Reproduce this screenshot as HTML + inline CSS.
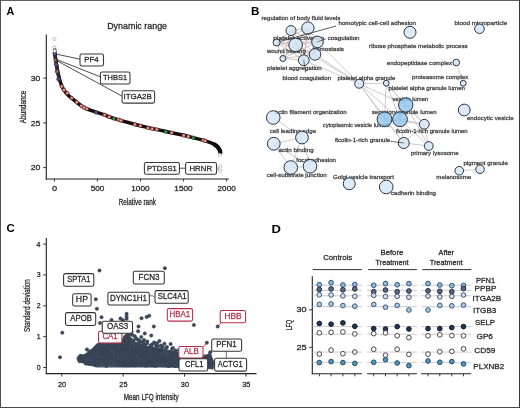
<!DOCTYPE html>
<html><head><meta charset="utf-8"><style>
html,body{margin:0;padding:0;background:#fff;width:520px;height:408px;overflow:hidden;}
svg{display:block;font-family:"Liberation Sans", sans-serif;}
</style></head><body>
<svg width="520" height="408" viewBox="0 0 520 408">
<defs><filter id="soft" x="0" y="0" width="520" height="408" filterUnits="userSpaceOnUse"><feGaussianBlur stdDeviation="0.3"/></filter></defs>
<g filter="url(#soft)">
<rect x="0" y="0" width="520" height="408" fill="#fff"/>
<text x="6.53" y="14.8" font-size="11" textLength="7.76" lengthAdjust="spacingAndGlyphs" font-weight="bold" fill="#000" text-anchor="start">A</text>
<text x="251.01" y="14.8" font-size="11" textLength="8.41" lengthAdjust="spacingAndGlyphs" font-weight="bold" fill="#000" text-anchor="start">B</text>
<text x="6.44" y="232.2" font-size="11" textLength="8.27" lengthAdjust="spacingAndGlyphs" font-weight="bold" fill="#000" text-anchor="start">C</text>
<text x="271.42" y="232.5" font-size="11" textLength="9.43" lengthAdjust="spacingAndGlyphs" font-weight="bold" fill="#000" text-anchor="start">D</text>
<text x="107.16" y="28.8" font-size="9.8" textLength="59.92" lengthAdjust="spacingAndGlyphs" fill="#1a1a1a" stroke="#1a1a1a" stroke-width="0.32" stroke-opacity="0.75" text-anchor="start">Dynamic range</text>
<line x1="46.3" y1="34.4" x2="46.3" y2="179.5" stroke="#222" stroke-width="1.1"/>
<line x1="45.75" y1="179" x2="228.8" y2="179" stroke="#222" stroke-width="1.1"/>
<line x1="43.2" y1="167.6" x2="46.3" y2="167.6" stroke="#222" stroke-width="0.9"/>
<text x="30.66" y="170.2" font-size="8.0" textLength="9.68" lengthAdjust="spacingAndGlyphs" fill="#222" stroke="#222" stroke-width="0.32" stroke-opacity="0.75" text-anchor="start">20</text>
<line x1="43.2" y1="122.9" x2="46.3" y2="122.9" stroke="#222" stroke-width="0.9"/>
<text x="30.66" y="125.5" font-size="8.0" textLength="9.71" lengthAdjust="spacingAndGlyphs" fill="#222" stroke="#222" stroke-width="0.32" stroke-opacity="0.75" text-anchor="start">25</text>
<line x1="43.2" y1="78.1" x2="46.3" y2="78.1" stroke="#222" stroke-width="0.9"/>
<text x="30.78" y="80.69999999999999" font-size="8.0" textLength="9.57" lengthAdjust="spacingAndGlyphs" fill="#222" stroke="#222" stroke-width="0.32" stroke-opacity="0.75" text-anchor="start">30</text>
<line x1="54.4" y1="179" x2="54.4" y2="181.5" stroke="#222" stroke-width="0.9"/>
<text x="51.93" y="191.4" font-size="7.6" textLength="5.12" lengthAdjust="spacingAndGlyphs" fill="#222" stroke="#222" stroke-width="0.32" stroke-opacity="0.75" text-anchor="start">0</text>
<line x1="97.44999999999999" y1="179" x2="97.44999999999999" y2="181.5" stroke="#222" stroke-width="0.9"/>
<text x="90.72" y="191.4" font-size="7.6" textLength="13.64" lengthAdjust="spacingAndGlyphs" fill="#222" stroke="#222" stroke-width="0.32" stroke-opacity="0.75" text-anchor="start">500</text>
<line x1="140.5" y1="179" x2="140.5" y2="181.5" stroke="#222" stroke-width="0.9"/>
<text x="131.28" y="191.4" font-size="7.6" textLength="18.35" lengthAdjust="spacingAndGlyphs" fill="#222" stroke="#222" stroke-width="0.32" stroke-opacity="0.75" text-anchor="start">1000</text>
<line x1="183.55" y1="179" x2="183.55" y2="181.5" stroke="#222" stroke-width="0.9"/>
<text x="174.33" y="191.4" font-size="7.6" textLength="18.35" lengthAdjust="spacingAndGlyphs" fill="#222" stroke="#222" stroke-width="0.32" stroke-opacity="0.75" text-anchor="start">1500</text>
<line x1="226.6" y1="179" x2="226.6" y2="181.5" stroke="#222" stroke-width="0.9"/>
<text x="217.59" y="191.4" font-size="7.6" textLength="18.13" lengthAdjust="spacingAndGlyphs" fill="#222" stroke="#222" stroke-width="0.32" stroke-opacity="0.75" text-anchor="start">2000</text>
<text x="118.67" y="204.7" font-size="8.4" textLength="37.23" lengthAdjust="spacingAndGlyphs" fill="#1a1a1a" stroke="#1a1a1a" stroke-width="0.32" stroke-opacity="0.75" text-anchor="start">Relative rank</text>
<text x="25.9" y="123.32" font-size="8.9" textLength="32.79" lengthAdjust="spacingAndGlyphs" fill="#1a1a1a" stroke="#1a1a1a" stroke-width="0.32" stroke-opacity="0.75" text-anchor="start" transform="rotate(-90 25.9 123.32)">Abundance</text>
<path d="M54.6,49.5 L55.0,54 L55.5,58 L56.4,64 L57.4,70 L58.4,75 L59.4,78.8 L60.5,82.5 L61.9,86.3 L63.8,89.8 L66.2,93.1 L69.0,96 L71.9,98.3 L76.2,101.9 L81.5,106.0 L86.9,109.0 L95.4,111.8 L104.6,114.8 L109.2,116.8 L113.8,118.4 L121.2,120.6 L134.6,124.3 L140.5,125.8 L148.2,127.6 L157.4,129.6 L166.2,131.5 L171.5,132.7 L183.8,135.3 L193,137.6 L203.8,140.4 L210.5,142.6 L214.5,144.5 L217.5,146.8 L219.5,149.6 L220.4,152.4" fill="none" stroke="#160a0a" stroke-width="3.5" stroke-linecap="round" stroke-linejoin="round"/>
<path d="M214.5,144.5 L217.5,146.8 L219.5,149.6 L220.4,152.4" fill="none" stroke="#0a0a0a" stroke-width="4.2" stroke-linecap="round"/>
<path d="M54.8,53.6 L55.5,58 L56.4,64 L57.4,70 L58.4,75 L59.6,80" fill="none" stroke="#2e2238" stroke-width="3.4" stroke-linecap="round"/>
<circle cx="61.80" cy="86.40" r="1.75" fill="#ec9a8e" stroke="#5e1d20" stroke-width="0.7"/>
<circle cx="64.00" cy="90.00" r="1.75" fill="#ec9a8e" stroke="#5e1d20" stroke-width="0.7"/>
<circle cx="67.30" cy="93.10" r="1.75" fill="#ec9a8e" stroke="#5e1d20" stroke-width="0.7"/>
<circle cx="71.75" cy="98.00" r="1.75" fill="#ec9a8e" stroke="#5e1d20" stroke-width="0.7"/>
<circle cx="76.75" cy="102.30" r="1.75" fill="#ec9a8e" stroke="#5e1d20" stroke-width="0.7"/>
<circle cx="81.40" cy="105.90" r="1.75" fill="#ec9a8e" stroke="#5e1d20" stroke-width="0.7"/>
<circle cx="84.00" cy="107.60" r="1.75" fill="#ec9a8e" stroke="#5e1d20" stroke-width="0.7"/>
<circle cx="86.80" cy="108.80" r="1.75" fill="#ec9a8e" stroke="#5e1d20" stroke-width="0.7"/>
<circle cx="104.60" cy="114.90" r="1.75" fill="#ec9a8e" stroke="#5e1d20" stroke-width="0.7"/>
<circle cx="109.20" cy="116.90" r="1.75" fill="#ec9a8e" stroke="#5e1d20" stroke-width="0.7"/>
<circle cx="118.50" cy="119.70" r="1.75" fill="#ec9a8e" stroke="#5e1d20" stroke-width="0.7"/>
<circle cx="121.10" cy="120.60" r="1.75" fill="#ec9a8e" stroke="#5e1d20" stroke-width="0.7"/>
<circle cx="134.80" cy="124.50" r="1.75" fill="#ec9a8e" stroke="#5e1d20" stroke-width="0.7"/>
<circle cx="140.30" cy="125.80" r="1.75" fill="#ec9a8e" stroke="#5e1d20" stroke-width="0.7"/>
<circle cx="148.00" cy="127.90" r="1.75" fill="#ec9a8e" stroke="#5e1d20" stroke-width="0.7"/>
<circle cx="152.10" cy="128.80" r="1.75" fill="#ec9a8e" stroke="#5e1d20" stroke-width="0.7"/>
<circle cx="156.75" cy="129.50" r="1.75" fill="#ec9a8e" stroke="#5e1d20" stroke-width="0.7"/>
<circle cx="171.65" cy="132.70" r="1.75" fill="#ec9a8e" stroke="#5e1d20" stroke-width="0.7"/>
<circle cx="183.70" cy="135.40" r="1.75" fill="#ec9a8e" stroke="#5e1d20" stroke-width="0.7"/>
<circle cx="188.20" cy="136.50" r="1.75" fill="#ec9a8e" stroke="#5e1d20" stroke-width="0.7"/>
<circle cx="203.20" cy="140.20" r="1.75" fill="#ec9a8e" stroke="#5e1d20" stroke-width="0.7"/>
<circle cx="205.30" cy="140.90" r="1.75" fill="#ec9a8e" stroke="#5e1d20" stroke-width="0.7"/>
<circle cx="55.50" cy="60.00" r="1.8" fill="#9a6a6a" stroke="#3a1e1e" stroke-width="0.6"/>
<circle cx="57.00" cy="71.60" r="1.8" fill="#9a6a6a" stroke="#3a1e1e" stroke-width="0.6"/>
<circle cx="54.70" cy="53.70" r="1.8" fill="#5f5088" stroke="#2a2040" stroke-width="0.6"/>
<circle cx="56.10" cy="64.60" r="1.8" fill="#5f5088" stroke="#2a2040" stroke-width="0.6"/>
<circle cx="58.50" cy="79.30" r="1.8" fill="#5f5088" stroke="#2a2040" stroke-width="0.6"/>
<circle cx="96.00" cy="112.40" r="1.8" fill="#5f5088" stroke="#2a2040" stroke-width="0.6"/>
<circle cx="113.90" cy="118.60" r="1.7" fill="#3a9a58" stroke="#10301a" stroke-width="0.5"/>
<circle cx="165.80" cy="131.70" r="1.7" fill="#3a9a58" stroke="#10301a" stroke-width="0.5"/>
<circle cx="193.30" cy="137.70" r="1.7" fill="#3a9a58" stroke="#10301a" stroke-width="0.5"/>
<circle cx="54.30" cy="39.20" r="1.6" fill="#fff" stroke="#9a9a9a" stroke-width="0.6"/>
<circle cx="54.30" cy="47.20" r="1.6" fill="#fff" stroke="#9a9a9a" stroke-width="0.6"/>
<circle cx="54.60" cy="50.80" r="1.6" fill="#fff" stroke="#9a9a9a" stroke-width="0.6"/>
<circle cx="219.80" cy="154.80" r="1.6" fill="#fff" stroke="#9a9a9a" stroke-width="0.6"/>
<circle cx="220.40" cy="166.40" r="1.6" fill="#fff" stroke="#9a9a9a" stroke-width="0.6"/>
<circle cx="220.40" cy="170.80" r="1.6" fill="#fff" stroke="#9a9a9a" stroke-width="0.6"/>
<line x1="56.5" y1="54.2" x2="80" y2="59.2" stroke="#222" stroke-width="0.8"/>
<line x1="56.5" y1="59.5" x2="100.4" y2="76.8" stroke="#222" stroke-width="0.8"/>
<line x1="56.5" y1="60.5" x2="122.1" y2="96.2" stroke="#222" stroke-width="0.8"/>
<rect x="80" y="54" width="23.50" height="12.00" rx="1.8" fill="#fff" fill-opacity="1" stroke="#383838" stroke-width="1.05"/>
<text x="84.26" y="62.3" font-size="8.0" textLength="14.27" lengthAdjust="spacingAndGlyphs" fill="#222" stroke="#222" stroke-width="0.32" stroke-opacity="0.75" text-anchor="start">PF4</text>
<rect x="100.4" y="72" width="29.60" height="12.00" rx="1.8" fill="#fff" fill-opacity="1" stroke="#383838" stroke-width="1.05"/>
<text x="103.03" y="80.4" font-size="8.0" textLength="24.13" lengthAdjust="spacingAndGlyphs" fill="#222" stroke="#222" stroke-width="0.32" stroke-opacity="0.75" text-anchor="start">THBS1</text>
<rect x="122.1" y="90.7" width="32.50" height="12.40" rx="1.8" fill="#fff" fill-opacity="1" stroke="#383838" stroke-width="1.05"/>
<text x="123.46" y="99.3" font-size="8.0" textLength="28.45" lengthAdjust="spacingAndGlyphs" fill="#222" stroke="#222" stroke-width="0.32" stroke-opacity="0.75" text-anchor="start">ITGA2B</text>
<rect x="144.4" y="162.5" width="35.00" height="11.80" rx="1.8" fill="#fff" fill-opacity="1" stroke="#383838" stroke-width="1.05"/>
<text x="146.97" y="170.7" font-size="8.0" textLength="29.8" lengthAdjust="spacingAndGlyphs" fill="#222" stroke="#222" stroke-width="0.32" stroke-opacity="0.75" text-anchor="start">PTDSS1</text>
<line x1="179.4" y1="168.2" x2="185.6" y2="168.2" stroke="#222" stroke-width="0.8"/>
<rect x="185.6" y="162.5" width="30.90" height="11.80" rx="1.8" fill="#fff" fill-opacity="1" stroke="#383838" stroke-width="1.05"/>
<text x="189.45" y="170.7" font-size="8.0" textLength="22.71" lengthAdjust="spacingAndGlyphs" fill="#222" stroke="#222" stroke-width="0.32" stroke-opacity="0.75" text-anchor="start">HRNR</text>
<path d="M216.5,168.4 L218.2,168.4 M218.2,166.4 L218.2,170.8" fill="none" stroke="#777" stroke-width="0.6"/>
<line x1="291" y1="30.6" x2="307.9" y2="28.1" stroke="#c7b3b3" stroke-width="1.0" stroke-opacity="0.8"/>
<line x1="291" y1="30.6" x2="276.6" y2="42.5" stroke="#c7b3b3" stroke-width="1.0" stroke-opacity="0.8"/>
<line x1="291" y1="30.6" x2="295.6" y2="45" stroke="#c7b3b3" stroke-width="1.0" stroke-opacity="0.8"/>
<line x1="291" y1="30.6" x2="317.5" y2="41.9" stroke="#c7b3b3" stroke-width="1.0" stroke-opacity="0.8"/>
<line x1="291" y1="30.6" x2="315" y2="54.4" stroke="#c7b3b3" stroke-width="1.0" stroke-opacity="0.8"/>
<line x1="291" y1="30.6" x2="282.9" y2="58.5" stroke="#c7b3b3" stroke-width="1.0" stroke-opacity="0.8"/>
<line x1="291" y1="30.6" x2="303.75" y2="60.25" stroke="#c7b3b3" stroke-width="1.0" stroke-opacity="0.8"/>
<line x1="307.9" y1="28.1" x2="276.6" y2="42.5" stroke="#c7b3b3" stroke-width="1.0" stroke-opacity="0.8"/>
<line x1="307.9" y1="28.1" x2="295.6" y2="45" stroke="#c7b3b3" stroke-width="1.0" stroke-opacity="0.8"/>
<line x1="307.9" y1="28.1" x2="317.5" y2="41.9" stroke="#c7b3b3" stroke-width="1.0" stroke-opacity="0.8"/>
<line x1="307.9" y1="28.1" x2="315" y2="54.4" stroke="#c7b3b3" stroke-width="1.0" stroke-opacity="0.8"/>
<line x1="307.9" y1="28.1" x2="282.9" y2="58.5" stroke="#c7b3b3" stroke-width="1.0" stroke-opacity="0.8"/>
<line x1="307.9" y1="28.1" x2="303.75" y2="60.25" stroke="#c7b3b3" stroke-width="1.0" stroke-opacity="0.8"/>
<line x1="276.6" y1="42.5" x2="295.6" y2="45" stroke="#c7b3b3" stroke-width="1.0" stroke-opacity="0.8"/>
<line x1="276.6" y1="42.5" x2="317.5" y2="41.9" stroke="#c7b3b3" stroke-width="1.0" stroke-opacity="0.8"/>
<line x1="276.6" y1="42.5" x2="315" y2="54.4" stroke="#c7b3b3" stroke-width="1.0" stroke-opacity="0.8"/>
<line x1="276.6" y1="42.5" x2="282.9" y2="58.5" stroke="#c7b3b3" stroke-width="1.0" stroke-opacity="0.8"/>
<line x1="276.6" y1="42.5" x2="303.75" y2="60.25" stroke="#c7b3b3" stroke-width="1.0" stroke-opacity="0.8"/>
<line x1="295.6" y1="45" x2="317.5" y2="41.9" stroke="#c7b3b3" stroke-width="1.0" stroke-opacity="0.8"/>
<line x1="295.6" y1="45" x2="315" y2="54.4" stroke="#c7b3b3" stroke-width="1.0" stroke-opacity="0.8"/>
<line x1="295.6" y1="45" x2="282.9" y2="58.5" stroke="#c7b3b3" stroke-width="1.0" stroke-opacity="0.8"/>
<line x1="295.6" y1="45" x2="303.75" y2="60.25" stroke="#c7b3b3" stroke-width="1.0" stroke-opacity="0.8"/>
<line x1="317.5" y1="41.9" x2="315" y2="54.4" stroke="#c7b3b3" stroke-width="1.0" stroke-opacity="0.8"/>
<line x1="317.5" y1="41.9" x2="282.9" y2="58.5" stroke="#c7b3b3" stroke-width="1.0" stroke-opacity="0.8"/>
<line x1="317.5" y1="41.9" x2="303.75" y2="60.25" stroke="#c7b3b3" stroke-width="1.0" stroke-opacity="0.8"/>
<line x1="315" y1="54.4" x2="282.9" y2="58.5" stroke="#c7b3b3" stroke-width="1.0" stroke-opacity="0.8"/>
<line x1="315" y1="54.4" x2="303.75" y2="60.25" stroke="#c7b3b3" stroke-width="1.0" stroke-opacity="0.8"/>
<line x1="282.9" y1="58.5" x2="303.75" y2="60.25" stroke="#c7b3b3" stroke-width="1.0" stroke-opacity="0.8"/>
<line x1="295.6" y1="45" x2="359.25" y2="83.75" stroke="#c6c6c6" stroke-width="0.9"/>
<line x1="317.5" y1="41.9" x2="359.25" y2="83.75" stroke="#c6c6c6" stroke-width="0.9"/>
<line x1="315" y1="54.4" x2="359.25" y2="83.75" stroke="#c6c6c6" stroke-width="0.9"/>
<line x1="303.75" y1="60.25" x2="359.25" y2="83.75" stroke="#c6c6c6" stroke-width="0.9"/>
<line x1="359.25" y1="83.75" x2="386.25" y2="83.25" stroke="#c6c6c6" stroke-width="0.9"/>
<line x1="359.25" y1="83.75" x2="405.75" y2="105.0" stroke="#c6c6c6" stroke-width="0.9"/>
<line x1="359.25" y1="83.75" x2="384.5" y2="119.25" stroke="#c6c6c6" stroke-width="0.9"/>
<line x1="359.25" y1="83.75" x2="400" y2="119.25" stroke="#c6c6c6" stroke-width="0.9"/>
<line x1="359.25" y1="83.75" x2="403.75" y2="143" stroke="#c6c6c6" stroke-width="0.9"/>
<line x1="386.25" y1="83.25" x2="405.75" y2="105.0" stroke="#c6c6c6" stroke-width="0.9"/>
<line x1="386.25" y1="83.25" x2="400" y2="119.25" stroke="#c6c6c6" stroke-width="0.9"/>
<line x1="386.25" y1="83.25" x2="384.5" y2="119.25" stroke="#c6c6c6" stroke-width="0.9"/>
<line x1="405.75" y1="105.0" x2="384.5" y2="119.25" stroke="#c6c6c6" stroke-width="0.9"/>
<line x1="405.75" y1="105.0" x2="400" y2="119.25" stroke="#c6c6c6" stroke-width="0.9"/>
<line x1="384.5" y1="119.25" x2="400" y2="119.25" stroke="#c6c6c6" stroke-width="0.9"/>
<line x1="405.75" y1="105.0" x2="424.25" y2="124.25" stroke="#c6c6c6" stroke-width="0.9"/>
<line x1="400" y1="119.25" x2="424.25" y2="124.25" stroke="#c6c6c6" stroke-width="0.9"/>
<line x1="384.5" y1="119.25" x2="424.25" y2="124.25" stroke="#c6c6c6" stroke-width="0.9"/>
<line x1="384.5" y1="119.25" x2="403.75" y2="143" stroke="#c6c6c6" stroke-width="0.9"/>
<line x1="400" y1="119.25" x2="403.75" y2="143" stroke="#c6c6c6" stroke-width="0.9"/>
<line x1="403.75" y1="143" x2="424.25" y2="124.25" stroke="#c6c6c6" stroke-width="0.9"/>
<line x1="403.75" y1="143" x2="428.75" y2="146" stroke="#c6c6c6" stroke-width="0.9"/>
<line x1="424.25" y1="124.25" x2="428.75" y2="146" stroke="#c6c6c6" stroke-width="0.9"/>
<line x1="400" y1="119.25" x2="428.75" y2="146" stroke="#c6c6c6" stroke-width="0.9"/>
<line x1="405.75" y1="105.0" x2="428.75" y2="146" stroke="#c6c6c6" stroke-width="0.9"/>
<line x1="386.25" y1="83.25" x2="424.25" y2="124.25" stroke="#c6c6c6" stroke-width="0.9"/>
<line x1="273.25" y1="117.5" x2="302" y2="137.5" stroke="#c6c6c6" stroke-width="0.9"/>
<line x1="302" y1="137.5" x2="273.75" y2="143.75" stroke="#c6c6c6" stroke-width="0.9"/>
<line x1="273.75" y1="143.75" x2="290.75" y2="167.5" stroke="#c6c6c6" stroke-width="0.9"/>
<line x1="273.75" y1="143.75" x2="310" y2="166.25" stroke="#c6c6c6" stroke-width="0.9"/>
<line x1="302" y1="137.5" x2="290.75" y2="167.5" stroke="#c6c6c6" stroke-width="0.9"/>
<line x1="302" y1="137.5" x2="310" y2="166.25" stroke="#c6c6c6" stroke-width="0.9"/>
<line x1="290.75" y1="167.5" x2="310" y2="166.25" stroke="#c6c6c6" stroke-width="0.9"/>
<line x1="456.25" y1="62.5" x2="463.25" y2="83.25" stroke="#c6c6c6" stroke-width="0.9"/>
<line x1="459.25" y1="170.75" x2="480" y2="169.25" stroke="#c6c6c6" stroke-width="0.9"/>
<text x="261.6" y="20.3" font-size="6.05" textLength="78.61" lengthAdjust="spacingAndGlyphs" fill="#333333" stroke="#333333" stroke-width="0.3" stroke-opacity="0.75" text-anchor="start">regulation of body fluid levels</text>
<text x="338.47" y="24.6" font-size="6.05" textLength="77.43" lengthAdjust="spacingAndGlyphs" fill="#333333" stroke="#333333" stroke-width="0.3" stroke-opacity="0.75" text-anchor="start">homotypic cell-cell adhesion</text>
<text x="454.59" y="24.6" font-size="6.05" textLength="52.68" lengthAdjust="spacingAndGlyphs" fill="#333333" stroke="#333333" stroke-width="0.3" stroke-opacity="0.75" text-anchor="start">blood microparticle</text>
<text x="273.37" y="39.599999999999994" font-size="6.05" textLength="50.85" lengthAdjust="spacingAndGlyphs" fill="#333333" stroke="#333333" stroke-width="0.3" stroke-opacity="0.75" text-anchor="start">platelet activation</text>
<text x="327.74" y="40.4" font-size="6.05" textLength="31.86" lengthAdjust="spacingAndGlyphs" fill="#333333" stroke="#333333" stroke-width="0.3" stroke-opacity="0.75" text-anchor="start">coagulation</text>
<text x="369.1" y="48.4" font-size="6.05" textLength="98.61" lengthAdjust="spacingAndGlyphs" fill="#333333" stroke="#333333" stroke-width="0.3" stroke-opacity="0.75" text-anchor="start">ribose phosphate metabolic process</text>
<text x="312.77" y="50.8" font-size="6.05" textLength="31.15" lengthAdjust="spacingAndGlyphs" fill="#333333" stroke="#333333" stroke-width="0.3" stroke-opacity="0.75" text-anchor="start">hemostasis</text>
<text x="266.92" y="53.4" font-size="6.05" textLength="38.86" lengthAdjust="spacingAndGlyphs" fill="#333333" stroke="#333333" stroke-width="0.3" stroke-opacity="0.75" text-anchor="start">wound healing</text>
<text x="386.74" y="65.1" font-size="6.05" textLength="65.35" lengthAdjust="spacingAndGlyphs" fill="#333333" stroke="#333333" stroke-width="0.3" stroke-opacity="0.75" text-anchor="start">endopeptidase complex</text>
<text x="267.1" y="69.6" font-size="6.05" textLength="54.59" lengthAdjust="spacingAndGlyphs" fill="#333333" stroke="#333333" stroke-width="0.3" stroke-opacity="0.75" text-anchor="start">platelet aggregation</text>
<text x="412.11" y="79.1" font-size="6.05" textLength="56.27" lengthAdjust="spacingAndGlyphs" fill="#333333" stroke="#333333" stroke-width="0.3" stroke-opacity="0.75" text-anchor="start">proteasome complex</text>
<text x="337.61" y="79.6" font-size="6.05" textLength="57.65" lengthAdjust="spacingAndGlyphs" fill="#333333" stroke="#333333" stroke-width="0.3" stroke-opacity="0.75" text-anchor="start">platelet alpha granule</text>
<text x="282.6" y="80.1" font-size="6.05" textLength="48.59" lengthAdjust="spacingAndGlyphs" fill="#333333" stroke="#333333" stroke-width="0.3" stroke-opacity="0.75" text-anchor="start">blood coagulation</text>
<text x="388.4" y="90.3" font-size="6.05" textLength="76.58" lengthAdjust="spacingAndGlyphs" fill="#333333" stroke="#333333" stroke-width="0.3" stroke-opacity="0.75" text-anchor="start">platelet alpha granule lumen</text>
<text x="392.49" y="100.8" font-size="6.05" textLength="35.89" lengthAdjust="spacingAndGlyphs" fill="#333333" stroke="#333333" stroke-width="0.3" stroke-opacity="0.75" text-anchor="start">vesicle lumen</text>
<text x="371.83" y="114.0" font-size="6.05" textLength="64.75" lengthAdjust="spacingAndGlyphs" fill="#333333" stroke="#333333" stroke-width="0.3" stroke-opacity="0.75" text-anchor="start">secretory granule lumen</text>
<text x="274.74" y="114.3" font-size="6.05" textLength="71.85" lengthAdjust="spacingAndGlyphs" fill="#333333" stroke="#333333" stroke-width="0.3" stroke-opacity="0.75" text-anchor="start">actin filament organization</text>
<text x="466.94" y="120.39999999999999" font-size="6.05" textLength="46.64" lengthAdjust="spacingAndGlyphs" fill="#333333" stroke="#333333" stroke-width="0.3" stroke-opacity="0.75" text-anchor="start">endocytic vesicle</text>
<text x="322.76" y="127.2" font-size="6.05" textLength="66.62" lengthAdjust="spacingAndGlyphs" fill="#333333" stroke="#333333" stroke-width="0.3" stroke-opacity="0.75" text-anchor="start">cytoplasmic vesicle lumen</text>
<text x="395.91" y="133.3" font-size="6.05" textLength="71.77" lengthAdjust="spacingAndGlyphs" fill="#333333" stroke="#333333" stroke-width="0.3" stroke-opacity="0.75" text-anchor="start">ficolin-1-rich granule lumen</text>
<text x="269.74" y="132.6" font-size="6.05" textLength="46.33" lengthAdjust="spacingAndGlyphs" fill="#333333" stroke="#333333" stroke-width="0.3" stroke-opacity="0.75" text-anchor="start">cell leading edge</text>
<text x="334.91" y="142.0" font-size="6.05" textLength="55.36" lengthAdjust="spacingAndGlyphs" fill="#333333" stroke="#333333" stroke-width="0.3" stroke-opacity="0.75" text-anchor="start">ficolin-1-rich granule</text>
<text x="278.53" y="152.0" font-size="6.05" textLength="35.16" lengthAdjust="spacingAndGlyphs" fill="#333333" stroke="#333333" stroke-width="0.3" stroke-opacity="0.75" text-anchor="start">actin binding</text>
<text x="410.9" y="155.10000000000002" font-size="6.05" textLength="47.65" lengthAdjust="spacingAndGlyphs" fill="#333333" stroke="#333333" stroke-width="0.3" stroke-opacity="0.75" text-anchor="start">primary lysosome</text>
<text x="296.21" y="162.0" font-size="6.05" textLength="39.79" lengthAdjust="spacingAndGlyphs" fill="#333333" stroke="#333333" stroke-width="0.3" stroke-opacity="0.75" text-anchor="start">focal adhesion</text>
<text x="463.4" y="165.3" font-size="6.05" textLength="44.48" lengthAdjust="spacingAndGlyphs" fill="#333333" stroke="#333333" stroke-width="0.3" stroke-opacity="0.75" text-anchor="start">pigment granule</text>
<text x="266.74" y="176.8" font-size="6.05" textLength="59.96" lengthAdjust="spacingAndGlyphs" fill="#333333" stroke="#333333" stroke-width="0.3" stroke-opacity="0.75" text-anchor="start">cell-substrate junction</text>
<text x="436.39" y="178.8" font-size="6.05" textLength="34.67" lengthAdjust="spacingAndGlyphs" fill="#333333" stroke="#333333" stroke-width="0.3" stroke-opacity="0.75" text-anchor="start">melanosome</text>
<text x="332.99" y="179.3" font-size="6.05" textLength="60.86" lengthAdjust="spacingAndGlyphs" fill="#333333" stroke="#333333" stroke-width="0.3" stroke-opacity="0.75" text-anchor="start">Golgi vesicle transport</text>
<text x="391.04" y="195.10000000000002" font-size="6.05" textLength="44.95" lengthAdjust="spacingAndGlyphs" fill="#333333" stroke="#333333" stroke-width="0.3" stroke-opacity="0.75" text-anchor="start">cadherin binding</text>
<circle cx="291.00" cy="30.60" r="5" fill="#d5e7f7" stroke="#283646" stroke-width="1.0" fill-opacity="0.82"/>
<circle cx="307.90" cy="28.10" r="6.2" fill="#d5e7f7" stroke="#283646" stroke-width="1.0" fill-opacity="0.82"/>
<circle cx="276.60" cy="42.50" r="3.5" fill="#d5e7f7" stroke="#283646" stroke-width="1.0" fill-opacity="0.82"/>
<circle cx="295.60" cy="45.00" r="6.8" fill="#d5e7f7" stroke="#283646" stroke-width="1.0" fill-opacity="0.82"/>
<circle cx="317.50" cy="41.90" r="5.8" fill="#d5e7f7" stroke="#283646" stroke-width="1.0" fill-opacity="0.82"/>
<circle cx="315.00" cy="54.40" r="5.8" fill="#d5e7f7" stroke="#283646" stroke-width="1.0" fill-opacity="0.82"/>
<circle cx="282.90" cy="58.50" r="3" fill="#d5e7f7" stroke="#283646" stroke-width="1.0" fill-opacity="0.82"/>
<circle cx="303.75" cy="60.25" r="5.4" fill="#d5e7f7" stroke="#283646" stroke-width="1.0" fill-opacity="0.82"/>
<circle cx="410.00" cy="32.30" r="6" fill="#d5e7f7" stroke="#283646" stroke-width="1.0" fill-opacity="0.82"/>
<circle cx="479.50" cy="28.75" r="4.8" fill="#d5e7f7" stroke="#283646" stroke-width="1.0" fill-opacity="0.82"/>
<circle cx="456.25" cy="62.50" r="3.3" fill="#d5e7f7" stroke="#283646" stroke-width="1.0" fill-opacity="0.82"/>
<circle cx="463.25" cy="83.25" r="2.9" fill="#d5e7f7" stroke="#283646" stroke-width="1.0" fill-opacity="0.82"/>
<circle cx="359.25" cy="83.75" r="4.5" fill="#d5e7f7" stroke="#283646" stroke-width="1.0" fill-opacity="0.82"/>
<circle cx="386.25" cy="83.25" r="2.9" fill="#d5e7f7" stroke="#283646" stroke-width="1.0" fill-opacity="0.82"/>
<circle cx="405.75" cy="105.00" r="7.2" fill="#92c6ee" stroke="#283646" stroke-width="1.0" fill-opacity="0.82"/>
<circle cx="384.50" cy="119.25" r="7.4" fill="#92c6ee" stroke="#283646" stroke-width="1.0" fill-opacity="0.82"/>
<circle cx="400.00" cy="119.25" r="7.4" fill="#92c6ee" stroke="#283646" stroke-width="1.0" fill-opacity="0.82"/>
<circle cx="424.25" cy="124.25" r="4.9" fill="#d5e7f7" stroke="#283646" stroke-width="1.0" fill-opacity="0.82"/>
<circle cx="403.75" cy="143.00" r="5.5" fill="#d5e7f7" stroke="#283646" stroke-width="1.0" fill-opacity="0.82"/>
<circle cx="428.75" cy="146.00" r="4.4" fill="#d5e7f7" stroke="#283646" stroke-width="1.0" fill-opacity="0.82"/>
<circle cx="464.25" cy="110.00" r="5.9" fill="#d5e7f7" stroke="#283646" stroke-width="1.0" fill-opacity="0.82"/>
<circle cx="459.25" cy="170.75" r="4.3" fill="#d5e7f7" stroke="#283646" stroke-width="1.0" fill-opacity="0.82"/>
<circle cx="480.00" cy="169.25" r="4.3" fill="#d5e7f7" stroke="#283646" stroke-width="1.0" fill-opacity="0.82"/>
<circle cx="273.25" cy="117.50" r="6.8" fill="#d5e7f7" stroke="#283646" stroke-width="1.0" fill-opacity="0.82"/>
<circle cx="302.00" cy="137.50" r="6.4" fill="#d5e7f7" stroke="#283646" stroke-width="1.0" fill-opacity="0.82"/>
<circle cx="273.75" cy="143.75" r="6.4" fill="#d5e7f7" stroke="#283646" stroke-width="1.0" fill-opacity="0.82"/>
<circle cx="290.75" cy="167.50" r="6.8" fill="#d5e7f7" stroke="#283646" stroke-width="1.0" fill-opacity="0.82"/>
<circle cx="310.00" cy="166.25" r="6.8" fill="#d5e7f7" stroke="#283646" stroke-width="1.0" fill-opacity="0.82"/>
<circle cx="349.25" cy="183.75" r="6" fill="#d5e7f7" stroke="#283646" stroke-width="1.0" fill-opacity="0.82"/>
<circle cx="386.25" cy="187.00" r="6.8" fill="#d5e7f7" stroke="#283646" stroke-width="1.0" fill-opacity="0.82"/>
<line x1="336" y1="26" x2="280" y2="41.5" stroke="#333" stroke-width="0.8"/>
<line x1="317.5" y1="41.9" x2="326" y2="38.8" stroke="#333" stroke-width="0.7"/>
<line x1="303.75" y1="60.25" x2="305.5" y2="72.5" stroke="#333" stroke-width="0.7"/>
<line x1="390.5" y1="141.3" x2="403.75" y2="143" stroke="#333" stroke-width="0.7"/>
<line x1="46.3" y1="238" x2="46.3" y2="374" stroke="#222" stroke-width="1.1"/>
<line x1="45.75" y1="373.6" x2="256.5" y2="373.6" stroke="#222" stroke-width="1.1"/>
<line x1="43.2" y1="367.5" x2="46.3" y2="367.5" stroke="#222" stroke-width="0.9"/>
<text x="36.68" y="370.0" font-size="7.0" textLength="3.89" lengthAdjust="spacingAndGlyphs" fill="#222" stroke="#222" stroke-width="0.32" stroke-opacity="0.75" text-anchor="start">0</text>
<line x1="43.2" y1="336.65" x2="46.3" y2="336.65" stroke="#222" stroke-width="0.9"/>
<text x="36.75" y="339.15" font-size="7.0" textLength="3.89" lengthAdjust="spacingAndGlyphs" fill="#222" stroke="#222" stroke-width="0.32" stroke-opacity="0.75" text-anchor="start">1</text>
<line x1="43.2" y1="305.8" x2="46.3" y2="305.8" stroke="#222" stroke-width="0.9"/>
<text x="36.76" y="308.3" font-size="7.0" textLength="3.89" lengthAdjust="spacingAndGlyphs" fill="#222" stroke="#222" stroke-width="0.32" stroke-opacity="0.75" text-anchor="start">2</text>
<line x1="43.2" y1="274.95" x2="46.3" y2="274.95" stroke="#222" stroke-width="0.9"/>
<text x="36.71" y="277.45" font-size="7.0" textLength="3.89" lengthAdjust="spacingAndGlyphs" fill="#222" stroke="#222" stroke-width="0.32" stroke-opacity="0.75" text-anchor="start">3</text>
<line x1="43.2" y1="244.1" x2="46.3" y2="244.1" stroke="#222" stroke-width="0.9"/>
<text x="36.61" y="246.6" font-size="7.0" textLength="3.89" lengthAdjust="spacingAndGlyphs" fill="#222" stroke="#222" stroke-width="0.32" stroke-opacity="0.75" text-anchor="start">4</text>
<line x1="61.8" y1="373.6" x2="61.8" y2="376.6" stroke="#222" stroke-width="0.9"/>
<text x="57.97" y="386.5" font-size="7.0" textLength="8.18" lengthAdjust="spacingAndGlyphs" fill="#222" stroke="#222" stroke-width="0.32" stroke-opacity="0.75" text-anchor="start">20</text>
<line x1="123.19999999999999" y1="373.6" x2="123.19999999999999" y2="376.6" stroke="#222" stroke-width="0.9"/>
<text x="119.38" y="386.5" font-size="7.0" textLength="8.18" lengthAdjust="spacingAndGlyphs" fill="#222" stroke="#222" stroke-width="0.32" stroke-opacity="0.75" text-anchor="start">25</text>
<line x1="184.6" y1="373.6" x2="184.6" y2="376.6" stroke="#222" stroke-width="0.9"/>
<text x="180.82" y="386.5" font-size="7.0" textLength="8.18" lengthAdjust="spacingAndGlyphs" fill="#222" stroke="#222" stroke-width="0.32" stroke-opacity="0.75" text-anchor="start">30</text>
<line x1="246.0" y1="373.6" x2="246.0" y2="376.6" stroke="#222" stroke-width="0.9"/>
<text x="242.23" y="386.5" font-size="7.0" textLength="8.18" lengthAdjust="spacingAndGlyphs" fill="#222" stroke="#222" stroke-width="0.32" stroke-opacity="0.75" text-anchor="start">35</text>
<text x="123.78" y="399.6" font-size="8.6" textLength="54.94" lengthAdjust="spacingAndGlyphs" fill="#1a1a1a" stroke="#1a1a1a" stroke-width="0.32" stroke-opacity="0.75" text-anchor="start">Mean LFQ intensity</text>
<text x="30.5" y="331.99" font-size="8.8" textLength="52.9" lengthAdjust="spacingAndGlyphs" fill="#1a1a1a" stroke="#1a1a1a" stroke-width="0.32" stroke-opacity="0.75" text-anchor="start" transform="rotate(-90 30.5 331.99)">Standard deviation</text>
<path d="M77.5,360 L80,354.4 L83.75,355 L88.1,353.1 L91.25,350 L95,346.25 L97,344 L100,343 L122,342 L124,336 L127,334 L130,337 L133,341 L138,343.5 L145,345.5 L150,347 L160,348.5 L170,350.5 L180,353 L190,355.5 L200,357 L205,355 L210,355.5 L213,360 L213,369 L200,367.5 L160,367 L120,367 L100,366.8 L97.5,366.5 L87.5,364.8 L80,361.5Z" fill="#3d4a5b" stroke="#3d4a5b" stroke-width="1.2" stroke-linejoin="round"/>
<circle cx="133.43" cy="363.07" r="1.75" fill="#3d4a5b" stroke="#2c3745" stroke-width="0.35"/>
<circle cx="117.19" cy="362.65" r="1.75" fill="#3d4a5b" stroke="#2c3745" stroke-width="0.35"/>
<circle cx="99.30" cy="353.26" r="1.75" fill="#3d4a5b" stroke="#2c3745" stroke-width="0.35"/>
<circle cx="117.98" cy="353.42" r="1.75" fill="#3d4a5b" stroke="#2c3745" stroke-width="0.35"/>
<circle cx="185.21" cy="357.96" r="1.75" fill="#3d4a5b" stroke="#2c3745" stroke-width="0.35"/>
<circle cx="108.17" cy="352.98" r="1.75" fill="#3d4a5b" stroke="#2c3745" stroke-width="0.35"/>
<circle cx="147.53" cy="365.01" r="1.75" fill="#3d4a5b" stroke="#2c3745" stroke-width="0.35"/>
<circle cx="132.54" cy="360.29" r="1.75" fill="#3d4a5b" stroke="#2c3745" stroke-width="0.35"/>
<circle cx="95.28" cy="349.56" r="1.75" fill="#3d4a5b" stroke="#2c3745" stroke-width="0.35"/>
<circle cx="79.49" cy="356.73" r="1.75" fill="#3d4a5b" stroke="#2c3745" stroke-width="0.35"/>
<circle cx="171.34" cy="353.77" r="1.75" fill="#3d4a5b" stroke="#2c3745" stroke-width="0.35"/>
<circle cx="155.19" cy="348.25" r="1.75" fill="#3d4a5b" stroke="#2c3745" stroke-width="0.35"/>
<circle cx="140.37" cy="356.57" r="1.75" fill="#3d4a5b" stroke="#2c3745" stroke-width="0.35"/>
<circle cx="82.49" cy="358.06" r="1.75" fill="#3d4a5b" stroke="#2c3745" stroke-width="0.35"/>
<circle cx="128.01" cy="356.75" r="1.75" fill="#3d4a5b" stroke="#2c3745" stroke-width="0.35"/>
<circle cx="82.25" cy="360.73" r="1.75" fill="#3d4a5b" stroke="#2c3745" stroke-width="0.35"/>
<circle cx="128.73" cy="364.86" r="1.75" fill="#3d4a5b" stroke="#2c3745" stroke-width="0.35"/>
<circle cx="150.92" cy="365.34" r="1.75" fill="#3d4a5b" stroke="#2c3745" stroke-width="0.35"/>
<circle cx="188.70" cy="364.56" r="1.75" fill="#3d4a5b" stroke="#2c3745" stroke-width="0.35"/>
<circle cx="112.98" cy="346.61" r="1.75" fill="#3d4a5b" stroke="#2c3745" stroke-width="0.35"/>
<circle cx="124.23" cy="365.37" r="1.75" fill="#3d4a5b" stroke="#2c3745" stroke-width="0.35"/>
<circle cx="106.67" cy="349.40" r="1.75" fill="#3d4a5b" stroke="#2c3745" stroke-width="0.35"/>
<circle cx="125.70" cy="352.65" r="1.75" fill="#3d4a5b" stroke="#2c3745" stroke-width="0.35"/>
<circle cx="207.43" cy="357.62" r="1.75" fill="#3d4a5b" stroke="#2c3745" stroke-width="0.35"/>
<circle cx="146.17" cy="354.70" r="1.75" fill="#3d4a5b" stroke="#2c3745" stroke-width="0.35"/>
<circle cx="199.93" cy="361.20" r="1.75" fill="#3d4a5b" stroke="#2c3745" stroke-width="0.35"/>
<circle cx="196.43" cy="361.91" r="1.75" fill="#3d4a5b" stroke="#2c3745" stroke-width="0.35"/>
<circle cx="128.93" cy="345.96" r="1.75" fill="#3d4a5b" stroke="#2c3745" stroke-width="0.35"/>
<circle cx="88.50" cy="355.37" r="1.75" fill="#3d4a5b" stroke="#2c3745" stroke-width="0.35"/>
<circle cx="109.32" cy="343.90" r="1.75" fill="#3d4a5b" stroke="#2c3745" stroke-width="0.35"/>
<circle cx="139.24" cy="349.35" r="1.75" fill="#3d4a5b" stroke="#2c3745" stroke-width="0.35"/>
<circle cx="194.87" cy="357.85" r="1.75" fill="#3d4a5b" stroke="#2c3745" stroke-width="0.35"/>
<circle cx="110.56" cy="344.67" r="1.75" fill="#3d4a5b" stroke="#2c3745" stroke-width="0.35"/>
<circle cx="97.39" cy="360.88" r="1.75" fill="#3d4a5b" stroke="#2c3745" stroke-width="0.35"/>
<circle cx="148.56" cy="361.16" r="1.75" fill="#3d4a5b" stroke="#2c3745" stroke-width="0.35"/>
<circle cx="193.37" cy="362.24" r="1.75" fill="#3d4a5b" stroke="#2c3745" stroke-width="0.35"/>
<circle cx="188.57" cy="359.59" r="1.75" fill="#3d4a5b" stroke="#2c3745" stroke-width="0.35"/>
<circle cx="105.74" cy="350.71" r="1.75" fill="#3d4a5b" stroke="#2c3745" stroke-width="0.35"/>
<circle cx="110.28" cy="357.70" r="1.75" fill="#3d4a5b" stroke="#2c3745" stroke-width="0.35"/>
<circle cx="165.42" cy="361.99" r="1.75" fill="#3d4a5b" stroke="#2c3745" stroke-width="0.35"/>
<circle cx="85.87" cy="356.42" r="1.75" fill="#3d4a5b" stroke="#2c3745" stroke-width="0.35"/>
<circle cx="201.37" cy="361.29" r="1.75" fill="#3d4a5b" stroke="#2c3745" stroke-width="0.35"/>
<circle cx="98.99" cy="361.57" r="1.75" fill="#3d4a5b" stroke="#2c3745" stroke-width="0.35"/>
<circle cx="120.55" cy="362.03" r="1.75" fill="#3d4a5b" stroke="#2c3745" stroke-width="0.35"/>
<circle cx="200.68" cy="362.26" r="1.75" fill="#3d4a5b" stroke="#2c3745" stroke-width="0.35"/>
<circle cx="94.46" cy="363.06" r="1.75" fill="#3d4a5b" stroke="#2c3745" stroke-width="0.35"/>
<circle cx="123.06" cy="351.95" r="1.75" fill="#3d4a5b" stroke="#2c3745" stroke-width="0.35"/>
<circle cx="209.92" cy="355.99" r="1.75" fill="#3d4a5b" stroke="#2c3745" stroke-width="0.35"/>
<circle cx="134.73" cy="364.87" r="1.75" fill="#3d4a5b" stroke="#2c3745" stroke-width="0.35"/>
<circle cx="107.68" cy="353.46" r="1.75" fill="#3d4a5b" stroke="#2c3745" stroke-width="0.35"/>
<circle cx="110.31" cy="346.76" r="1.75" fill="#3d4a5b" stroke="#2c3745" stroke-width="0.35"/>
<circle cx="123.53" cy="348.33" r="1.75" fill="#3d4a5b" stroke="#2c3745" stroke-width="0.35"/>
<circle cx="144.23" cy="351.27" r="1.75" fill="#3d4a5b" stroke="#2c3745" stroke-width="0.35"/>
<circle cx="98.13" cy="348.94" r="1.75" fill="#3d4a5b" stroke="#2c3745" stroke-width="0.35"/>
<circle cx="175.53" cy="352.26" r="1.75" fill="#3d4a5b" stroke="#2c3745" stroke-width="0.35"/>
<circle cx="119.64" cy="350.73" r="1.75" fill="#3d4a5b" stroke="#2c3745" stroke-width="0.35"/>
<circle cx="151.76" cy="361.37" r="1.75" fill="#3d4a5b" stroke="#2c3745" stroke-width="0.35"/>
<circle cx="88.86" cy="352.41" r="1.75" fill="#3d4a5b" stroke="#2c3745" stroke-width="0.35"/>
<circle cx="152.64" cy="360.40" r="1.75" fill="#3d4a5b" stroke="#2c3745" stroke-width="0.35"/>
<circle cx="159.75" cy="350.22" r="1.75" fill="#3d4a5b" stroke="#2c3745" stroke-width="0.35"/>
<circle cx="145.70" cy="357.71" r="1.75" fill="#3d4a5b" stroke="#2c3745" stroke-width="0.35"/>
<circle cx="137.33" cy="351.33" r="1.75" fill="#3d4a5b" stroke="#2c3745" stroke-width="0.35"/>
<circle cx="171.89" cy="365.06" r="1.75" fill="#3d4a5b" stroke="#2c3745" stroke-width="0.35"/>
<circle cx="84.24" cy="356.78" r="1.75" fill="#3d4a5b" stroke="#2c3745" stroke-width="0.35"/>
<circle cx="183.75" cy="365.88" r="1.75" fill="#3d4a5b" stroke="#2c3745" stroke-width="0.35"/>
<circle cx="95.62" cy="358.64" r="1.75" fill="#3d4a5b" stroke="#2c3745" stroke-width="0.35"/>
<circle cx="129.76" cy="349.49" r="1.75" fill="#3d4a5b" stroke="#2c3745" stroke-width="0.35"/>
<circle cx="212.58" cy="363.30" r="1.75" fill="#3d4a5b" stroke="#2c3745" stroke-width="0.35"/>
<circle cx="96.61" cy="347.26" r="1.75" fill="#3d4a5b" stroke="#2c3745" stroke-width="0.35"/>
<circle cx="151.57" cy="347.62" r="1.75" fill="#3d4a5b" stroke="#2c3745" stroke-width="0.35"/>
<circle cx="161.35" cy="350.49" r="1.75" fill="#3d4a5b" stroke="#2c3745" stroke-width="0.35"/>
<circle cx="79.54" cy="361.16" r="1.75" fill="#3d4a5b" stroke="#2c3745" stroke-width="0.35"/>
<circle cx="153.88" cy="358.02" r="1.75" fill="#3d4a5b" stroke="#2c3745" stroke-width="0.35"/>
<circle cx="162.82" cy="362.07" r="1.75" fill="#3d4a5b" stroke="#2c3745" stroke-width="0.35"/>
<circle cx="137.53" cy="343.57" r="1.75" fill="#3d4a5b" stroke="#2c3745" stroke-width="0.35"/>
<circle cx="117.68" cy="342.20" r="1.75" fill="#3d4a5b" stroke="#2c3745" stroke-width="0.35"/>
<circle cx="100.52" cy="348.99" r="1.75" fill="#3d4a5b" stroke="#2c3745" stroke-width="0.35"/>
<circle cx="143.30" cy="363.38" r="1.75" fill="#3d4a5b" stroke="#2c3745" stroke-width="0.35"/>
<circle cx="129.03" cy="350.27" r="1.75" fill="#3d4a5b" stroke="#2c3745" stroke-width="0.35"/>
<circle cx="121.98" cy="363.29" r="1.75" fill="#3d4a5b" stroke="#2c3745" stroke-width="0.35"/>
<circle cx="172.94" cy="355.44" r="1.75" fill="#3d4a5b" stroke="#2c3745" stroke-width="0.35"/>
<circle cx="130.66" cy="343.90" r="1.75" fill="#3d4a5b" stroke="#2c3745" stroke-width="0.35"/>
<circle cx="83.90" cy="359.64" r="1.75" fill="#3d4a5b" stroke="#2c3745" stroke-width="0.35"/>
<circle cx="85.83" cy="363.65" r="1.75" fill="#3d4a5b" stroke="#2c3745" stroke-width="0.35"/>
<circle cx="195.88" cy="356.82" r="1.75" fill="#3d4a5b" stroke="#2c3745" stroke-width="0.35"/>
<circle cx="115.03" cy="348.38" r="1.75" fill="#3d4a5b" stroke="#2c3745" stroke-width="0.35"/>
<circle cx="96.05" cy="347.83" r="1.75" fill="#3d4a5b" stroke="#2c3745" stroke-width="0.35"/>
<circle cx="117.34" cy="344.26" r="1.75" fill="#3d4a5b" stroke="#2c3745" stroke-width="0.35"/>
<circle cx="140.45" cy="350.11" r="1.75" fill="#3d4a5b" stroke="#2c3745" stroke-width="0.35"/>
<circle cx="102.14" cy="350.19" r="1.75" fill="#3d4a5b" stroke="#2c3745" stroke-width="0.35"/>
<circle cx="155.98" cy="351.17" r="1.75" fill="#3d4a5b" stroke="#2c3745" stroke-width="0.35"/>
<circle cx="179.08" cy="356.30" r="1.75" fill="#3d4a5b" stroke="#2c3745" stroke-width="0.35"/>
<circle cx="174.24" cy="365.16" r="1.75" fill="#3d4a5b" stroke="#2c3745" stroke-width="0.35"/>
<circle cx="128.53" cy="343.05" r="1.75" fill="#3d4a5b" stroke="#2c3745" stroke-width="0.35"/>
<circle cx="175.38" cy="355.73" r="1.75" fill="#3d4a5b" stroke="#2c3745" stroke-width="0.35"/>
<circle cx="176.74" cy="362.49" r="1.75" fill="#3d4a5b" stroke="#2c3745" stroke-width="0.35"/>
<circle cx="93.50" cy="350.95" r="1.75" fill="#3d4a5b" stroke="#2c3745" stroke-width="0.35"/>
<circle cx="144.61" cy="363.40" r="1.75" fill="#3d4a5b" stroke="#2c3745" stroke-width="0.35"/>
<circle cx="186.65" cy="363.06" r="1.75" fill="#3d4a5b" stroke="#2c3745" stroke-width="0.35"/>
<circle cx="155.77" cy="365.71" r="1.75" fill="#3d4a5b" stroke="#2c3745" stroke-width="0.35"/>
<circle cx="169.61" cy="357.73" r="1.75" fill="#3d4a5b" stroke="#2c3745" stroke-width="0.35"/>
<circle cx="88.69" cy="363.43" r="1.75" fill="#3d4a5b" stroke="#2c3745" stroke-width="0.35"/>
<circle cx="152.19" cy="355.11" r="1.75" fill="#3d4a5b" stroke="#2c3745" stroke-width="0.35"/>
<circle cx="161.67" cy="357.23" r="1.75" fill="#3d4a5b" stroke="#2c3745" stroke-width="0.35"/>
<circle cx="185.68" cy="359.93" r="1.75" fill="#3d4a5b" stroke="#2c3745" stroke-width="0.35"/>
<circle cx="144.42" cy="351.41" r="1.75" fill="#3d4a5b" stroke="#2c3745" stroke-width="0.35"/>
<circle cx="143.15" cy="345.30" r="1.75" fill="#3d4a5b" stroke="#2c3745" stroke-width="0.35"/>
<circle cx="141.06" cy="357.35" r="1.75" fill="#3d4a5b" stroke="#2c3745" stroke-width="0.35"/>
<circle cx="181.38" cy="354.68" r="1.75" fill="#3d4a5b" stroke="#2c3745" stroke-width="0.35"/>
<circle cx="168.08" cy="357.69" r="1.75" fill="#3d4a5b" stroke="#2c3745" stroke-width="0.35"/>
<circle cx="146.31" cy="348.59" r="1.75" fill="#3d4a5b" stroke="#2c3745" stroke-width="0.35"/>
<circle cx="103.50" cy="353.26" r="1.75" fill="#3d4a5b" stroke="#2c3745" stroke-width="0.35"/>
<circle cx="93.84" cy="350.96" r="1.75" fill="#3d4a5b" stroke="#2c3745" stroke-width="0.35"/>
<circle cx="198.16" cy="358.13" r="1.75" fill="#3d4a5b" stroke="#2c3745" stroke-width="0.35"/>
<circle cx="106.39" cy="365.91" r="1.75" fill="#3d4a5b" stroke="#2c3745" stroke-width="0.35"/>
<circle cx="118.25" cy="363.61" r="1.75" fill="#3d4a5b" stroke="#2c3745" stroke-width="0.35"/>
<circle cx="203.70" cy="358.52" r="1.75" fill="#3d4a5b" stroke="#2c3745" stroke-width="0.35"/>
<circle cx="126.11" cy="345.72" r="1.75" fill="#3d4a5b" stroke="#2c3745" stroke-width="0.35"/>
<circle cx="124.50" cy="347.12" r="1.75" fill="#3d4a5b" stroke="#2c3745" stroke-width="0.35"/>
<circle cx="88.24" cy="363.39" r="1.75" fill="#3d4a5b" stroke="#2c3745" stroke-width="0.35"/>
<circle cx="197.80" cy="362.48" r="1.75" fill="#3d4a5b" stroke="#2c3745" stroke-width="0.35"/>
<circle cx="179.37" cy="355.78" r="1.75" fill="#3d4a5b" stroke="#2c3745" stroke-width="0.35"/>
<circle cx="115.69" cy="359.56" r="1.75" fill="#3d4a5b" stroke="#2c3745" stroke-width="0.35"/>
<circle cx="153.75" cy="365.49" r="1.75" fill="#3d4a5b" stroke="#2c3745" stroke-width="0.35"/>
<circle cx="131.94" cy="350.97" r="1.75" fill="#3d4a5b" stroke="#2c3745" stroke-width="0.35"/>
<circle cx="126.76" cy="343.53" r="1.75" fill="#3d4a5b" stroke="#2c3745" stroke-width="0.35"/>
<circle cx="144.48" cy="355.19" r="1.75" fill="#3d4a5b" stroke="#2c3745" stroke-width="0.35"/>
<circle cx="129.97" cy="347.83" r="1.75" fill="#3d4a5b" stroke="#2c3745" stroke-width="0.35"/>
<circle cx="207.55" cy="363.95" r="1.75" fill="#3d4a5b" stroke="#2c3745" stroke-width="0.35"/>
<circle cx="78.51" cy="358.38" r="1.75" fill="#3d4a5b" stroke="#2c3745" stroke-width="0.35"/>
<circle cx="189.58" cy="364.22" r="1.75" fill="#3d4a5b" stroke="#2c3745" stroke-width="0.35"/>
<circle cx="147.13" cy="357.28" r="1.75" fill="#3d4a5b" stroke="#2c3745" stroke-width="0.35"/>
<circle cx="205.81" cy="358.87" r="1.75" fill="#3d4a5b" stroke="#2c3745" stroke-width="0.35"/>
<circle cx="164.63" cy="360.59" r="1.75" fill="#3d4a5b" stroke="#2c3745" stroke-width="0.35"/>
<circle cx="138.03" cy="352.06" r="1.75" fill="#3d4a5b" stroke="#2c3745" stroke-width="0.35"/>
<circle cx="163.08" cy="357.94" r="1.75" fill="#3d4a5b" stroke="#2c3745" stroke-width="0.35"/>
<circle cx="147.42" cy="353.32" r="1.75" fill="#3d4a5b" stroke="#2c3745" stroke-width="0.35"/>
<circle cx="128.33" cy="338.94" r="1.75" fill="#3d4a5b" stroke="#2c3745" stroke-width="0.35"/>
<circle cx="116.21" cy="348.43" r="1.75" fill="#3d4a5b" stroke="#2c3745" stroke-width="0.35"/>
<circle cx="208.25" cy="355.78" r="1.75" fill="#3d4a5b" stroke="#2c3745" stroke-width="0.35"/>
<circle cx="208.49" cy="358.19" r="1.75" fill="#3d4a5b" stroke="#2c3745" stroke-width="0.35"/>
<circle cx="143.76" cy="356.98" r="1.75" fill="#3d4a5b" stroke="#2c3745" stroke-width="0.35"/>
<circle cx="121.33" cy="346.82" r="1.75" fill="#3d4a5b" stroke="#2c3745" stroke-width="0.35"/>
<circle cx="185.59" cy="359.57" r="1.75" fill="#3d4a5b" stroke="#2c3745" stroke-width="0.35"/>
<circle cx="105.00" cy="360.42" r="1.75" fill="#3d4a5b" stroke="#2c3745" stroke-width="0.35"/>
<circle cx="105.27" cy="346.68" r="1.75" fill="#3d4a5b" stroke="#2c3745" stroke-width="0.35"/>
<circle cx="199.74" cy="365.34" r="1.75" fill="#3d4a5b" stroke="#2c3745" stroke-width="0.35"/>
<circle cx="126.34" cy="343.27" r="1.75" fill="#3d4a5b" stroke="#2c3745" stroke-width="0.35"/>
<circle cx="113.17" cy="344.06" r="1.75" fill="#3d4a5b" stroke="#2c3745" stroke-width="0.35"/>
<circle cx="123.93" cy="362.86" r="1.75" fill="#3d4a5b" stroke="#2c3745" stroke-width="0.35"/>
<circle cx="101.02" cy="344.57" r="1.75" fill="#3d4a5b" stroke="#2c3745" stroke-width="0.35"/>
<circle cx="131.51" cy="362.47" r="1.75" fill="#3d4a5b" stroke="#2c3745" stroke-width="0.35"/>
<circle cx="178.62" cy="365.94" r="1.75" fill="#3d4a5b" stroke="#2c3745" stroke-width="0.35"/>
<circle cx="110.70" cy="358.67" r="1.75" fill="#3d4a5b" stroke="#2c3745" stroke-width="0.35"/>
<circle cx="106.74" cy="349.01" r="1.75" fill="#3d4a5b" stroke="#2c3745" stroke-width="0.35"/>
<circle cx="128.11" cy="340.04" r="1.75" fill="#3d4a5b" stroke="#2c3745" stroke-width="0.35"/>
<circle cx="134.19" cy="349.74" r="1.75" fill="#3d4a5b" stroke="#2c3745" stroke-width="0.35"/>
<circle cx="186.36" cy="359.54" r="1.75" fill="#3d4a5b" stroke="#2c3745" stroke-width="0.35"/>
<circle cx="189.19" cy="360.91" r="1.75" fill="#3d4a5b" stroke="#2c3745" stroke-width="0.35"/>
<circle cx="118.74" cy="344.47" r="1.75" fill="#3d4a5b" stroke="#2c3745" stroke-width="0.35"/>
<circle cx="101.62" cy="360.12" r="1.75" fill="#3d4a5b" stroke="#2c3745" stroke-width="0.35"/>
<circle cx="106.79" cy="346.67" r="1.75" fill="#3d4a5b" stroke="#2c3745" stroke-width="0.35"/>
<circle cx="160.84" cy="356.96" r="1.75" fill="#3d4a5b" stroke="#2c3745" stroke-width="0.35"/>
<circle cx="178.72" cy="363.88" r="1.75" fill="#3d4a5b" stroke="#2c3745" stroke-width="0.35"/>
<circle cx="95.47" cy="365.37" r="1.75" fill="#3d4a5b" stroke="#2c3745" stroke-width="0.35"/>
<circle cx="187.18" cy="356.13" r="1.75" fill="#3d4a5b" stroke="#2c3745" stroke-width="0.35"/>
<circle cx="140.47" cy="362.76" r="1.75" fill="#3d4a5b" stroke="#2c3745" stroke-width="0.35"/>
<circle cx="110.39" cy="361.11" r="1.75" fill="#3d4a5b" stroke="#2c3745" stroke-width="0.35"/>
<circle cx="157.46" cy="354.80" r="1.75" fill="#3d4a5b" stroke="#2c3745" stroke-width="0.35"/>
<circle cx="104.47" cy="344.75" r="1.75" fill="#3d4a5b" stroke="#2c3745" stroke-width="0.35"/>
<circle cx="109.69" cy="353.98" r="1.75" fill="#3d4a5b" stroke="#2c3745" stroke-width="0.35"/>
<circle cx="129.34" cy="352.01" r="1.75" fill="#3d4a5b" stroke="#2c3745" stroke-width="0.35"/>
<circle cx="96.92" cy="357.82" r="1.75" fill="#3d4a5b" stroke="#2c3745" stroke-width="0.35"/>
<circle cx="131.37" cy="341.33" r="1.75" fill="#3d4a5b" stroke="#2c3745" stroke-width="0.35"/>
<circle cx="117.73" cy="352.66" r="1.75" fill="#3d4a5b" stroke="#2c3745" stroke-width="0.35"/>
<circle cx="124.01" cy="346.66" r="1.75" fill="#3d4a5b" stroke="#2c3745" stroke-width="0.35"/>
<circle cx="124.93" cy="337.89" r="1.75" fill="#3d4a5b" stroke="#2c3745" stroke-width="0.35"/>
<circle cx="133.33" cy="362.81" r="1.75" fill="#3d4a5b" stroke="#2c3745" stroke-width="0.35"/>
<circle cx="130.87" cy="365.31" r="1.75" fill="#3d4a5b" stroke="#2c3745" stroke-width="0.35"/>
<circle cx="86.46" cy="354.89" r="1.75" fill="#3d4a5b" stroke="#2c3745" stroke-width="0.35"/>
<circle cx="125.92" cy="350.18" r="1.75" fill="#3d4a5b" stroke="#2c3745" stroke-width="0.35"/>
<circle cx="130.63" cy="363.85" r="1.75" fill="#3d4a5b" stroke="#2c3745" stroke-width="0.35"/>
<circle cx="104.54" cy="345.99" r="1.75" fill="#3d4a5b" stroke="#2c3745" stroke-width="0.35"/>
<circle cx="175.48" cy="365.89" r="1.75" fill="#3d4a5b" stroke="#2c3745" stroke-width="0.35"/>
<circle cx="157.93" cy="352.00" r="1.75" fill="#3d4a5b" stroke="#2c3745" stroke-width="0.35"/>
<circle cx="132.81" cy="353.30" r="1.75" fill="#3d4a5b" stroke="#2c3745" stroke-width="0.35"/>
<circle cx="133.60" cy="356.35" r="1.75" fill="#3d4a5b" stroke="#2c3745" stroke-width="0.35"/>
<circle cx="136.55" cy="347.53" r="1.75" fill="#3d4a5b" stroke="#2c3745" stroke-width="0.35"/>
<circle cx="180.90" cy="361.20" r="1.75" fill="#3d4a5b" stroke="#2c3745" stroke-width="0.35"/>
<circle cx="176.69" cy="361.11" r="1.75" fill="#3d4a5b" stroke="#2c3745" stroke-width="0.35"/>
<circle cx="176.49" cy="362.60" r="1.75" fill="#3d4a5b" stroke="#2c3745" stroke-width="0.35"/>
<circle cx="169.16" cy="365.82" r="1.75" fill="#3d4a5b" stroke="#2c3745" stroke-width="0.35"/>
<circle cx="97.62" cy="361.39" r="1.75" fill="#3d4a5b" stroke="#2c3745" stroke-width="0.35"/>
<circle cx="90.11" cy="351.23" r="1.75" fill="#3d4a5b" stroke="#2c3745" stroke-width="0.35"/>
<circle cx="155.21" cy="365.30" r="1.75" fill="#3d4a5b" stroke="#2c3745" stroke-width="0.35"/>
<circle cx="124.44" cy="360.59" r="1.75" fill="#3d4a5b" stroke="#2c3745" stroke-width="0.35"/>
<circle cx="156.02" cy="356.55" r="1.75" fill="#3d4a5b" stroke="#2c3745" stroke-width="0.35"/>
<circle cx="145.77" cy="365.82" r="1.75" fill="#3d4a5b" stroke="#2c3745" stroke-width="0.35"/>
<circle cx="105.40" cy="353.34" r="1.75" fill="#3d4a5b" stroke="#2c3745" stroke-width="0.35"/>
<circle cx="161.35" cy="349.00" r="1.75" fill="#3d4a5b" stroke="#2c3745" stroke-width="0.35"/>
<circle cx="87.41" cy="355.53" r="1.75" fill="#3d4a5b" stroke="#2c3745" stroke-width="0.35"/>
<circle cx="195.98" cy="361.29" r="1.75" fill="#3d4a5b" stroke="#2c3745" stroke-width="0.35"/>
<circle cx="130.27" cy="340.57" r="1.75" fill="#3d4a5b" stroke="#2c3745" stroke-width="0.35"/>
<circle cx="205.20" cy="359.34" r="1.75" fill="#3d4a5b" stroke="#2c3745" stroke-width="0.35"/>
<circle cx="130.84" cy="339.51" r="1.75" fill="#3d4a5b" stroke="#2c3745" stroke-width="0.35"/>
<circle cx="82.17" cy="361.15" r="1.75" fill="#3d4a5b" stroke="#2c3745" stroke-width="0.35"/>
<circle cx="101.93" cy="354.32" r="1.75" fill="#3d4a5b" stroke="#2c3745" stroke-width="0.35"/>
<circle cx="144.97" cy="355.66" r="1.75" fill="#3d4a5b" stroke="#2c3745" stroke-width="0.35"/>
<circle cx="183.62" cy="358.62" r="1.75" fill="#3d4a5b" stroke="#2c3745" stroke-width="0.35"/>
<circle cx="120.97" cy="359.99" r="1.75" fill="#3d4a5b" stroke="#2c3745" stroke-width="0.35"/>
<circle cx="171.32" cy="363.81" r="1.75" fill="#3d4a5b" stroke="#2c3745" stroke-width="0.35"/>
<circle cx="151.53" cy="347.44" r="1.75" fill="#3d4a5b" stroke="#2c3745" stroke-width="0.35"/>
<circle cx="111.14" cy="355.68" r="1.75" fill="#3d4a5b" stroke="#2c3745" stroke-width="0.35"/>
<circle cx="162.30" cy="357.71" r="1.75" fill="#3d4a5b" stroke="#2c3745" stroke-width="0.35"/>
<circle cx="139.73" cy="363.59" r="1.75" fill="#3d4a5b" stroke="#2c3745" stroke-width="0.35"/>
<circle cx="171.67" cy="364.30" r="1.75" fill="#3d4a5b" stroke="#2c3745" stroke-width="0.35"/>
<circle cx="135.21" cy="358.98" r="1.75" fill="#3d4a5b" stroke="#2c3745" stroke-width="0.35"/>
<circle cx="103.68" cy="354.90" r="1.75" fill="#3d4a5b" stroke="#2c3745" stroke-width="0.35"/>
<circle cx="170.97" cy="355.36" r="1.75" fill="#3d4a5b" stroke="#2c3745" stroke-width="0.35"/>
<circle cx="171.58" cy="359.47" r="1.75" fill="#3d4a5b" stroke="#2c3745" stroke-width="0.35"/>
<circle cx="124.88" cy="362.70" r="1.75" fill="#3d4a5b" stroke="#2c3745" stroke-width="0.35"/>
<circle cx="188.74" cy="365.65" r="1.75" fill="#3d4a5b" stroke="#2c3745" stroke-width="0.35"/>
<circle cx="192.68" cy="362.48" r="1.75" fill="#3d4a5b" stroke="#2c3745" stroke-width="0.35"/>
<circle cx="162.78" cy="363.00" r="1.75" fill="#3d4a5b" stroke="#2c3745" stroke-width="0.35"/>
<circle cx="118.68" cy="346.95" r="1.75" fill="#3d4a5b" stroke="#2c3745" stroke-width="0.35"/>
<circle cx="113.56" cy="358.63" r="1.75" fill="#3d4a5b" stroke="#2c3745" stroke-width="0.35"/>
<circle cx="125.52" cy="342.83" r="1.75" fill="#3d4a5b" stroke="#2c3745" stroke-width="0.35"/>
<circle cx="135.10" cy="360.92" r="1.75" fill="#3d4a5b" stroke="#2c3745" stroke-width="0.35"/>
<circle cx="122.55" cy="358.19" r="1.75" fill="#3d4a5b" stroke="#2c3745" stroke-width="0.35"/>
<circle cx="142.81" cy="361.87" r="1.75" fill="#3d4a5b" stroke="#2c3745" stroke-width="0.35"/>
<circle cx="99.83" cy="349.78" r="1.75" fill="#3d4a5b" stroke="#2c3745" stroke-width="0.35"/>
<circle cx="122.61" cy="363.27" r="1.75" fill="#3d4a5b" stroke="#2c3745" stroke-width="0.35"/>
<circle cx="89.39" cy="355.46" r="1.75" fill="#3d4a5b" stroke="#2c3745" stroke-width="0.35"/>
<circle cx="85.32" cy="361.52" r="1.75" fill="#3d4a5b" stroke="#2c3745" stroke-width="0.35"/>
<circle cx="171.60" cy="361.48" r="1.75" fill="#3d4a5b" stroke="#2c3745" stroke-width="0.35"/>
<circle cx="130.18" cy="345.78" r="1.75" fill="#3d4a5b" stroke="#2c3745" stroke-width="0.35"/>
<circle cx="127.10" cy="365.36" r="1.75" fill="#3d4a5b" stroke="#2c3745" stroke-width="0.35"/>
<circle cx="106.70" cy="348.44" r="1.75" fill="#3d4a5b" stroke="#2c3745" stroke-width="0.35"/>
<circle cx="148.42" cy="360.18" r="1.75" fill="#3d4a5b" stroke="#2c3745" stroke-width="0.35"/>
<circle cx="179.42" cy="355.85" r="1.75" fill="#3d4a5b" stroke="#2c3745" stroke-width="0.35"/>
<circle cx="122.79" cy="343.07" r="1.75" fill="#3d4a5b" stroke="#2c3745" stroke-width="0.35"/>
<circle cx="95.75" cy="363.72" r="1.75" fill="#3d4a5b" stroke="#2c3745" stroke-width="0.35"/>
<circle cx="166.69" cy="359.68" r="1.75" fill="#3d4a5b" stroke="#2c3745" stroke-width="0.35"/>
<circle cx="97.74" cy="347.55" r="1.75" fill="#3d4a5b" stroke="#2c3745" stroke-width="0.35"/>
<circle cx="172.44" cy="363.75" r="1.75" fill="#3d4a5b" stroke="#2c3745" stroke-width="0.35"/>
<circle cx="108.66" cy="343.06" r="1.75" fill="#3d4a5b" stroke="#2c3745" stroke-width="0.35"/>
<circle cx="210.52" cy="359.15" r="1.75" fill="#3d4a5b" stroke="#2c3745" stroke-width="0.35"/>
<circle cx="211.74" cy="361.80" r="1.75" fill="#3d4a5b" stroke="#2c3745" stroke-width="0.35"/>
<circle cx="101.47" cy="355.52" r="1.75" fill="#3d4a5b" stroke="#2c3745" stroke-width="0.35"/>
<circle cx="129.86" cy="361.64" r="1.75" fill="#3d4a5b" stroke="#2c3745" stroke-width="0.35"/>
<circle cx="93.85" cy="354.15" r="1.75" fill="#3d4a5b" stroke="#2c3745" stroke-width="0.35"/>
<circle cx="130.66" cy="359.64" r="1.75" fill="#3d4a5b" stroke="#2c3745" stroke-width="0.35"/>
<circle cx="154.36" cy="359.96" r="1.75" fill="#3d4a5b" stroke="#2c3745" stroke-width="0.35"/>
<circle cx="175.11" cy="365.20" r="1.75" fill="#3d4a5b" stroke="#2c3745" stroke-width="0.35"/>
<circle cx="182.37" cy="358.00" r="1.75" fill="#3d4a5b" stroke="#2c3745" stroke-width="0.35"/>
<circle cx="193.34" cy="357.18" r="1.75" fill="#3d4a5b" stroke="#2c3745" stroke-width="0.35"/>
<circle cx="117.82" cy="355.13" r="1.75" fill="#3d4a5b" stroke="#2c3745" stroke-width="0.35"/>
<circle cx="183.53" cy="358.53" r="1.75" fill="#3d4a5b" stroke="#2c3745" stroke-width="0.35"/>
<circle cx="133.30" cy="348.21" r="1.75" fill="#3d4a5b" stroke="#2c3745" stroke-width="0.35"/>
<circle cx="99.63" cy="356.18" r="1.75" fill="#3d4a5b" stroke="#2c3745" stroke-width="0.35"/>
<circle cx="96.52" cy="361.27" r="1.75" fill="#3d4a5b" stroke="#2c3745" stroke-width="0.35"/>
<circle cx="149.74" cy="358.69" r="1.75" fill="#3d4a5b" stroke="#2c3745" stroke-width="0.35"/>
<circle cx="145.71" cy="355.57" r="1.75" fill="#3d4a5b" stroke="#2c3745" stroke-width="0.35"/>
<circle cx="103.41" cy="357.37" r="1.75" fill="#3d4a5b" stroke="#2c3745" stroke-width="0.35"/>
<circle cx="128.95" cy="360.51" r="1.75" fill="#3d4a5b" stroke="#2c3745" stroke-width="0.35"/>
<circle cx="112.41" cy="345.99" r="1.75" fill="#3d4a5b" stroke="#2c3745" stroke-width="0.35"/>
<circle cx="132.88" cy="357.93" r="1.75" fill="#3d4a5b" stroke="#2c3745" stroke-width="0.35"/>
<circle cx="123.30" cy="340.61" r="1.75" fill="#3d4a5b" stroke="#2c3745" stroke-width="0.35"/>
<circle cx="105.42" cy="359.66" r="1.75" fill="#3d4a5b" stroke="#2c3745" stroke-width="0.35"/>
<circle cx="104.65" cy="362.06" r="1.75" fill="#3d4a5b" stroke="#2c3745" stroke-width="0.35"/>
<circle cx="128.87" cy="338.48" r="1.75" fill="#3d4a5b" stroke="#2c3745" stroke-width="0.35"/>
<circle cx="92.10" cy="361.06" r="1.75" fill="#3d4a5b" stroke="#2c3745" stroke-width="0.35"/>
<circle cx="187.34" cy="355.37" r="1.75" fill="#3d4a5b" stroke="#2c3745" stroke-width="0.35"/>
<circle cx="139.68" cy="352.48" r="1.75" fill="#3d4a5b" stroke="#2c3745" stroke-width="0.35"/>
<circle cx="123.44" cy="355.55" r="1.75" fill="#3d4a5b" stroke="#2c3745" stroke-width="0.35"/>
<circle cx="188.62" cy="362.65" r="1.75" fill="#3d4a5b" stroke="#2c3745" stroke-width="0.35"/>
<circle cx="126.66" cy="340.14" r="1.75" fill="#3d4a5b" stroke="#2c3745" stroke-width="0.35"/>
<circle cx="116.25" cy="349.18" r="1.75" fill="#3d4a5b" stroke="#2c3745" stroke-width="0.35"/>
<circle cx="133.99" cy="355.49" r="1.75" fill="#3d4a5b" stroke="#2c3745" stroke-width="0.35"/>
<circle cx="204.02" cy="364.18" r="1.75" fill="#3d4a5b" stroke="#2c3745" stroke-width="0.35"/>
<circle cx="200.81" cy="361.36" r="1.75" fill="#3d4a5b" stroke="#2c3745" stroke-width="0.35"/>
<circle cx="93.66" cy="363.25" r="1.75" fill="#3d4a5b" stroke="#2c3745" stroke-width="0.35"/>
<circle cx="106.71" cy="361.05" r="1.75" fill="#3d4a5b" stroke="#2c3745" stroke-width="0.35"/>
<circle cx="200.57" cy="361.67" r="1.75" fill="#3d4a5b" stroke="#2c3745" stroke-width="0.35"/>
<circle cx="97.51" cy="365.65" r="1.75" fill="#3d4a5b" stroke="#2c3745" stroke-width="0.35"/>
<circle cx="159.17" cy="361.25" r="1.75" fill="#3d4a5b" stroke="#2c3745" stroke-width="0.35"/>
<circle cx="167.58" cy="365.76" r="1.75" fill="#3d4a5b" stroke="#2c3745" stroke-width="0.35"/>
<circle cx="184.33" cy="363.55" r="1.75" fill="#3d4a5b" stroke="#2c3745" stroke-width="0.35"/>
<circle cx="101.63" cy="357.71" r="1.75" fill="#3d4a5b" stroke="#2c3745" stroke-width="0.35"/>
<circle cx="148.31" cy="359.68" r="1.75" fill="#3d4a5b" stroke="#2c3745" stroke-width="0.35"/>
<circle cx="135.40" cy="365.31" r="1.75" fill="#3d4a5b" stroke="#2c3745" stroke-width="0.35"/>
<circle cx="142.79" cy="349.93" r="1.75" fill="#3d4a5b" stroke="#2c3745" stroke-width="0.35"/>
<circle cx="149.54" cy="364.52" r="1.75" fill="#3d4a5b" stroke="#2c3745" stroke-width="0.35"/>
<circle cx="139.51" cy="352.50" r="1.75" fill="#3d4a5b" stroke="#2c3745" stroke-width="0.35"/>
<circle cx="167.14" cy="363.62" r="1.75" fill="#3d4a5b" stroke="#2c3745" stroke-width="0.35"/>
<circle cx="126.49" cy="346.75" r="1.75" fill="#3d4a5b" stroke="#2c3745" stroke-width="0.35"/>
<circle cx="163.19" cy="355.45" r="1.75" fill="#3d4a5b" stroke="#2c3745" stroke-width="0.35"/>
<circle cx="145.49" cy="349.39" r="1.75" fill="#3d4a5b" stroke="#2c3745" stroke-width="0.35"/>
<circle cx="174.55" cy="355.01" r="1.75" fill="#3d4a5b" stroke="#2c3745" stroke-width="0.35"/>
<circle cx="121.40" cy="364.47" r="1.75" fill="#3d4a5b" stroke="#2c3745" stroke-width="0.35"/>
<circle cx="99.50" cy="270.50" r="1.75" fill="#3d4a5b" stroke="#2c3745" stroke-width="0.35"/>
<circle cx="164.90" cy="268.20" r="1.75" fill="#3d4a5b" stroke="#2c3745" stroke-width="0.35"/>
<circle cx="95.80" cy="299.30" r="1.75" fill="#3d4a5b" stroke="#2c3745" stroke-width="0.35"/>
<circle cx="96.90" cy="308.80" r="1.75" fill="#3d4a5b" stroke="#2c3745" stroke-width="0.35"/>
<circle cx="101.50" cy="317.20" r="1.75" fill="#3d4a5b" stroke="#2c3745" stroke-width="0.35"/>
<circle cx="100.00" cy="323.10" r="1.75" fill="#3d4a5b" stroke="#2c3745" stroke-width="0.35"/>
<circle cx="111.50" cy="320.00" r="1.75" fill="#3d4a5b" stroke="#2c3745" stroke-width="0.35"/>
<circle cx="120.50" cy="318.50" r="1.75" fill="#3d4a5b" stroke="#2c3745" stroke-width="0.35"/>
<circle cx="126.60" cy="313.80" r="1.75" fill="#3d4a5b" stroke="#2c3745" stroke-width="0.35"/>
<circle cx="126.60" cy="316.50" r="1.75" fill="#3d4a5b" stroke="#2c3745" stroke-width="0.35"/>
<circle cx="126.60" cy="318.70" r="1.75" fill="#3d4a5b" stroke="#2c3745" stroke-width="0.35"/>
<circle cx="123.00" cy="320.20" r="1.75" fill="#3d4a5b" stroke="#2c3745" stroke-width="0.35"/>
<circle cx="141.50" cy="318.20" r="1.75" fill="#3d4a5b" stroke="#2c3745" stroke-width="0.35"/>
<circle cx="146.60" cy="317.00" r="1.75" fill="#3d4a5b" stroke="#2c3745" stroke-width="0.35"/>
<circle cx="149.20" cy="315.80" r="1.75" fill="#3d4a5b" stroke="#2c3745" stroke-width="0.35"/>
<circle cx="138.50" cy="326.50" r="1.75" fill="#3d4a5b" stroke="#2c3745" stroke-width="0.35"/>
<circle cx="153.80" cy="326.50" r="1.75" fill="#3d4a5b" stroke="#2c3745" stroke-width="0.35"/>
<circle cx="138.10" cy="331.25" r="1.75" fill="#3d4a5b" stroke="#2c3745" stroke-width="0.35"/>
<circle cx="144.75" cy="333.50" r="1.75" fill="#3d4a5b" stroke="#2c3745" stroke-width="0.35"/>
<circle cx="151.25" cy="335.60" r="1.75" fill="#3d4a5b" stroke="#2c3745" stroke-width="0.35"/>
<circle cx="134.75" cy="336.25" r="1.75" fill="#3d4a5b" stroke="#2c3745" stroke-width="0.35"/>
<circle cx="141.25" cy="336.90" r="1.75" fill="#3d4a5b" stroke="#2c3745" stroke-width="0.35"/>
<circle cx="137.50" cy="339.40" r="1.75" fill="#3d4a5b" stroke="#2c3745" stroke-width="0.35"/>
<circle cx="144.00" cy="340.00" r="1.75" fill="#3d4a5b" stroke="#2c3745" stroke-width="0.35"/>
<circle cx="133.50" cy="340.60" r="1.75" fill="#3d4a5b" stroke="#2c3745" stroke-width="0.35"/>
<circle cx="147.25" cy="341.60" r="1.75" fill="#3d4a5b" stroke="#2c3745" stroke-width="0.35"/>
<circle cx="140.60" cy="342.25" r="1.75" fill="#3d4a5b" stroke="#2c3745" stroke-width="0.35"/>
<circle cx="159.40" cy="341.00" r="1.75" fill="#3d4a5b" stroke="#2c3745" stroke-width="0.35"/>
<circle cx="170.60" cy="344.00" r="1.75" fill="#3d4a5b" stroke="#2c3745" stroke-width="0.35"/>
<circle cx="164.40" cy="343.75" r="1.75" fill="#3d4a5b" stroke="#2c3745" stroke-width="0.35"/>
<circle cx="144.40" cy="344.40" r="1.75" fill="#3d4a5b" stroke="#2c3745" stroke-width="0.35"/>
<circle cx="150.60" cy="345.60" r="1.75" fill="#3d4a5b" stroke="#2c3745" stroke-width="0.35"/>
<circle cx="158.10" cy="346.25" r="1.75" fill="#3d4a5b" stroke="#2c3745" stroke-width="0.35"/>
<circle cx="162.50" cy="346.90" r="1.75" fill="#3d4a5b" stroke="#2c3745" stroke-width="0.35"/>
<circle cx="175.60" cy="350.60" r="1.75" fill="#3d4a5b" stroke="#2c3745" stroke-width="0.35"/>
<circle cx="155.25" cy="351.25" r="1.75" fill="#3d4a5b" stroke="#2c3745" stroke-width="0.35"/>
<circle cx="131.00" cy="334.00" r="1.75" fill="#3d4a5b" stroke="#2c3745" stroke-width="0.35"/>
<circle cx="128.50" cy="336.00" r="1.75" fill="#3d4a5b" stroke="#2c3745" stroke-width="0.35"/>
<circle cx="62.30" cy="332.70" r="1.75" fill="#3d4a5b" stroke="#2c3745" stroke-width="0.35"/>
<circle cx="60.00" cy="357.30" r="1.75" fill="#3d4a5b" stroke="#2c3745" stroke-width="0.35"/>
<circle cx="86.90" cy="349.40" r="1.75" fill="#3d4a5b" stroke="#2c3745" stroke-width="0.35"/>
<circle cx="129.00" cy="333.50" r="1.75" fill="#3d4a5b" stroke="#2c3745" stroke-width="0.35"/>
<circle cx="132.50" cy="335.00" r="1.75" fill="#3d4a5b" stroke="#2c3745" stroke-width="0.35"/>
<circle cx="136.00" cy="338.50" r="1.75" fill="#3d4a5b" stroke="#2c3745" stroke-width="0.35"/>
<circle cx="139.50" cy="340.50" r="1.75" fill="#3d4a5b" stroke="#2c3745" stroke-width="0.35"/>
<circle cx="143.00" cy="342.00" r="1.75" fill="#3d4a5b" stroke="#2c3745" stroke-width="0.35"/>
<circle cx="147.00" cy="343.50" r="1.75" fill="#3d4a5b" stroke="#2c3745" stroke-width="0.35"/>
<circle cx="152.00" cy="344.50" r="1.75" fill="#3d4a5b" stroke="#2c3745" stroke-width="0.35"/>
<circle cx="156.00" cy="345.00" r="1.75" fill="#3d4a5b" stroke="#2c3745" stroke-width="0.35"/>
<circle cx="161.00" cy="345.50" r="1.75" fill="#3d4a5b" stroke="#2c3745" stroke-width="0.35"/>
<circle cx="167.00" cy="347.00" r="1.75" fill="#3d4a5b" stroke="#2c3745" stroke-width="0.35"/>
<circle cx="173.00" cy="348.00" r="1.75" fill="#3d4a5b" stroke="#2c3745" stroke-width="0.35"/>
<circle cx="179.00" cy="350.00" r="1.75" fill="#3d4a5b" stroke="#2c3745" stroke-width="0.35"/>
<circle cx="154.00" cy="342.50" r="1.75" fill="#3d4a5b" stroke="#2c3745" stroke-width="0.35"/>
<circle cx="157.00" cy="343.20" r="1.75" fill="#3d4a5b" stroke="#2c3745" stroke-width="0.35"/>
<circle cx="131.50" cy="331.50" r="1.75" fill="#3d4a5b" stroke="#2c3745" stroke-width="0.35"/>
<circle cx="193.90" cy="325.00" r="1.75" fill="#3d4a5b" stroke="#2c3745" stroke-width="0.35"/>
<circle cx="217.70" cy="326.50" r="1.75" fill="#3d4a5b" stroke="#2c3745" stroke-width="0.35"/>
<circle cx="206.80" cy="342.80" r="1.75" fill="#3d4a5b" stroke="#2c3745" stroke-width="0.35"/>
<circle cx="210.20" cy="352.20" r="1.75" fill="#3d4a5b" stroke="#2c3745" stroke-width="0.35"/>
<circle cx="166.00" cy="348.00" r="1.75" fill="#3d4a5b" stroke="#2c3745" stroke-width="0.35"/>
<circle cx="172.00" cy="349.00" r="1.75" fill="#3d4a5b" stroke="#2c3745" stroke-width="0.35"/>
<circle cx="182.00" cy="352.00" r="1.75" fill="#3d4a5b" stroke="#2c3745" stroke-width="0.35"/>
<circle cx="188.00" cy="353.50" r="1.75" fill="#3d4a5b" stroke="#2c3745" stroke-width="0.35"/>
<circle cx="209.50" cy="355.00" r="1.75" fill="#3d4a5b" stroke="#2c3745" stroke-width="0.35"/>
<circle cx="210.50" cy="358.00" r="1.75" fill="#3d4a5b" stroke="#2c3745" stroke-width="0.35"/>
<circle cx="209.50" cy="361.00" r="1.75" fill="#3d4a5b" stroke="#2c3745" stroke-width="0.35"/>
<circle cx="211.00" cy="364.00" r="1.75" fill="#3d4a5b" stroke="#2c3745" stroke-width="0.35"/>
<circle cx="209.50" cy="366.00" r="1.75" fill="#3d4a5b" stroke="#2c3745" stroke-width="0.35"/>
<circle cx="212.00" cy="366.50" r="1.75" fill="#3d4a5b" stroke="#2c3745" stroke-width="0.35"/>
<line x1="217.7" y1="326.5" x2="221.5" y2="322.5" stroke="#b82c4a" stroke-width="0.8"/>
<line x1="202.5" y1="348" x2="206.8" y2="342.8" stroke="#b82c4a" stroke-width="0.8"/>
<path d="M149.3,295.8 L152.8,295.8 L155,297.5" fill="none" stroke="#333" stroke-width="0.7"/>
<line x1="210.2" y1="352.2" x2="212.5" y2="350" stroke="#333" stroke-width="0.7"/>
<line x1="226.3" y1="351.3" x2="226.3" y2="358.2" stroke="#333" stroke-width="0.7"/>
<rect x="63.6" y="273.6" width="30.20" height="12.70" rx="1.8" fill="#fff" fill-opacity="1" stroke="#333" stroke-width="1.05"/>
<text x="67.26" y="282.1" font-size="8.2" textLength="23.2" lengthAdjust="spacingAndGlyphs" fill="#222" stroke="#222" stroke-width="0.32" stroke-opacity="0.75" text-anchor="start">SPTA1</text>
<rect x="133.3" y="271.2" width="31.00" height="12.80" rx="1.8" fill="#fff" fill-opacity="1" stroke="#333" stroke-width="1.05"/>
<text x="138.54" y="279.8" font-size="8.2" textLength="20.91" lengthAdjust="spacingAndGlyphs" fill="#222" stroke="#222" stroke-width="0.32" stroke-opacity="0.75" text-anchor="start">FCN3</text>
<rect x="72.7" y="293.7" width="18.40" height="12.30" rx="1.8" fill="#fff" fill-opacity="1" stroke="#333" stroke-width="1.05"/>
<text x="75.88" y="301.8" font-size="8.2" textLength="12.07" lengthAdjust="spacingAndGlyphs" fill="#222" stroke="#222" stroke-width="0.32" stroke-opacity="0.75" text-anchor="start">HP</text>
<rect x="107.9" y="292.3" width="41.40" height="12.70" rx="1.8" fill="#fff" fill-opacity="1" stroke="#333" stroke-width="1.05"/>
<text x="109.95" y="300.8" font-size="8.2" textLength="37.04" lengthAdjust="spacingAndGlyphs" fill="#222" stroke="#222" stroke-width="0.32" stroke-opacity="0.75" text-anchor="start">DYNC1H1</text>
<rect x="155" y="290.6" width="33.20" height="12.60" rx="1.8" fill="#fff" fill-opacity="1" stroke="#333" stroke-width="1.05"/>
<text x="157.75" y="299.0" font-size="8.2" textLength="28.94" lengthAdjust="spacingAndGlyphs" fill="#222" stroke="#222" stroke-width="0.32" stroke-opacity="0.75" text-anchor="start">SLC4A1</text>
<rect x="65.5" y="312.6" width="30.20" height="12.80" rx="1.8" fill="#fff" fill-opacity="1" stroke="#333" stroke-width="1.05"/>
<text x="70.28" y="321.2" font-size="8.2" textLength="21.72" lengthAdjust="spacingAndGlyphs" fill="#222" stroke="#222" stroke-width="0.32" stroke-opacity="0.75" text-anchor="start">APOB</text>
<rect x="98.5" y="331.3" width="23.40" height="11.80" rx="1.8" fill="#fff" fill-opacity="0.85" stroke="#b82c4a" stroke-width="1.05"/>
<text x="102.51" y="338.90000000000003" font-size="8.2" textLength="15.16" lengthAdjust="spacingAndGlyphs" fill="#b82c4a" stroke="#b82c4a" stroke-width="0.32" stroke-opacity="0.75" text-anchor="start">CA1</text>
<rect x="102.2" y="321.2" width="30.30" height="12.00" rx="1.8" fill="#fff" fill-opacity="1" stroke="#333" stroke-width="1.05"/>
<text x="106.92" y="329.0" font-size="8.2" textLength="21.43" lengthAdjust="spacingAndGlyphs" fill="#222" stroke="#222" stroke-width="0.32" stroke-opacity="0.75" text-anchor="start">OAS3</text>
<rect x="167.3" y="308.6" width="25.30" height="12.50" rx="1.8" fill="#fff" fill-opacity="1" stroke="#b82c4a" stroke-width="1.05"/>
<text x="169.44" y="316.90000000000003" font-size="8.2" textLength="20.75" lengthAdjust="spacingAndGlyphs" fill="#b82c4a" stroke="#b82c4a" stroke-width="0.32" stroke-opacity="0.75" text-anchor="start">HBA1</text>
<rect x="220.2" y="310.4" width="25.40" height="12.40" rx="1.8" fill="#fff" fill-opacity="1" stroke="#b82c4a" stroke-width="1.05"/>
<text x="224.41" y="318.6" font-size="8.2" textLength="17.22" lengthAdjust="spacingAndGlyphs" fill="#b82c4a" stroke="#b82c4a" stroke-width="0.32" stroke-opacity="0.75" text-anchor="start">HBB</text>
<rect x="211.7" y="338.9" width="29.90" height="12.30" rx="1.8" fill="#fff" fill-opacity="1" stroke="#333" stroke-width="1.05"/>
<text x="216.24" y="347.0" font-size="8.2" textLength="20.34" lengthAdjust="spacingAndGlyphs" fill="#222" stroke="#222" stroke-width="0.32" stroke-opacity="0.75" text-anchor="start">PFN1</text>
<rect x="178.8" y="346.4" width="24.20" height="11.70" rx="1.8" fill="#fff" fill-opacity="1" stroke="#b82c4a" stroke-width="1.05"/>
<text x="183.78" y="353.90000000000003" font-size="8.2" textLength="15.14" lengthAdjust="spacingAndGlyphs" fill="#b82c4a" stroke="#b82c4a" stroke-width="0.32" stroke-opacity="0.75" text-anchor="start">ALB</text>
<rect x="179.0" y="358.7" width="28.70" height="12.30" rx="1.8" fill="#fff" fill-opacity="1" stroke="#333" stroke-width="1.05"/>
<text x="185.02" y="366.8" font-size="8.2" textLength="18.44" lengthAdjust="spacingAndGlyphs" fill="#222" stroke="#222" stroke-width="0.32" stroke-opacity="0.75" text-anchor="start">CFL1</text>
<rect x="214.6" y="358.2" width="32.00" height="12.90" rx="1.8" fill="#fff" fill-opacity="1" stroke="#333" stroke-width="1.05"/>
<text x="217.68" y="366.90000000000003" font-size="8.2" textLength="24.99" lengthAdjust="spacingAndGlyphs" fill="#222" stroke="#222" stroke-width="0.32" stroke-opacity="0.75" text-anchor="start">ACTG1</text>
<line x1="312.3" y1="276.2" x2="312.3" y2="374.3" stroke="#222" stroke-width="1.1"/>
<line x1="311.8" y1="373.8" x2="361.9" y2="373.8" stroke="#222" stroke-width="1.1"/>
<line x1="312.8" y1="269.6" x2="361.9" y2="269.6" stroke="#333" stroke-width="1.0"/>
<line x1="367.2" y1="373.8" x2="416.9" y2="373.8" stroke="#222" stroke-width="1.1"/>
<line x1="368.2" y1="269.6" x2="416.9" y2="269.6" stroke="#333" stroke-width="1.0"/>
<line x1="421.2" y1="373.8" x2="471.2" y2="373.8" stroke="#222" stroke-width="1.1"/>
<line x1="422.2" y1="269.6" x2="471.2" y2="269.6" stroke="#333" stroke-width="1.0"/>
<line x1="309.2" y1="309.8" x2="312.3" y2="309.8" stroke="#222" stroke-width="0.9"/>
<text x="296.56" y="312.3" font-size="7.4" textLength="9.99" lengthAdjust="spacingAndGlyphs" fill="#222" stroke="#222" stroke-width="0.32" stroke-opacity="0.75" text-anchor="start">30</text>
<line x1="309.2" y1="347.3" x2="312.3" y2="347.3" stroke="#222" stroke-width="0.9"/>
<text x="296.44" y="349.8" font-size="7.4" textLength="10.14" lengthAdjust="spacingAndGlyphs" fill="#222" stroke="#222" stroke-width="0.32" stroke-opacity="0.75" text-anchor="start">25</text>
<text x="292.5" y="330.34" font-size="9.2" textLength="10.39" lengthAdjust="spacingAndGlyphs" fill="#1a1a1a" stroke="#1a1a1a" stroke-width="0.32" stroke-opacity="0.75" text-anchor="start" transform="rotate(-90 292.5 330.34)">LFQ</text>
<text x="323.21" y="260" font-size="8.0" textLength="28.85" lengthAdjust="spacingAndGlyphs" fill="#222" stroke="#222" stroke-width="0.32" stroke-opacity="0.75" text-anchor="start">Controls</text>
<text x="380.46" y="255.3" font-size="8.0" textLength="22.88" lengthAdjust="spacingAndGlyphs" fill="#222" stroke="#222" stroke-width="0.32" stroke-opacity="0.75" text-anchor="start">Before</text>
<text x="375.54" y="264.6" font-size="8.0" textLength="33.12" lengthAdjust="spacingAndGlyphs" fill="#222" stroke="#222" stroke-width="0.32" stroke-opacity="0.75" text-anchor="start">Treatment</text>
<text x="438.58" y="255.3" font-size="8.0" textLength="15.42" lengthAdjust="spacingAndGlyphs" fill="#222" stroke="#222" stroke-width="0.32" stroke-opacity="0.75" text-anchor="start">After</text>
<text x="429.74" y="264.6" font-size="8.0" textLength="32.92" lengthAdjust="spacingAndGlyphs" fill="#222" stroke="#222" stroke-width="0.32" stroke-opacity="0.75" text-anchor="start">Treatment</text>
<line x1="319.3" y1="373.8" x2="319.3" y2="376.3" stroke="#222" stroke-width="0.9"/>
<line x1="331.1" y1="373.8" x2="331.1" y2="376.3" stroke="#222" stroke-width="0.9"/>
<line x1="342.9" y1="373.8" x2="342.9" y2="376.3" stroke="#222" stroke-width="0.9"/>
<line x1="354.8" y1="373.8" x2="354.8" y2="376.3" stroke="#222" stroke-width="0.9"/>
<line x1="373.7" y1="373.8" x2="373.7" y2="376.3" stroke="#222" stroke-width="0.9"/>
<line x1="385.5" y1="373.8" x2="385.5" y2="376.3" stroke="#222" stroke-width="0.9"/>
<line x1="397.2" y1="373.8" x2="397.2" y2="376.3" stroke="#222" stroke-width="0.9"/>
<line x1="408.9" y1="373.8" x2="408.9" y2="376.3" stroke="#222" stroke-width="0.9"/>
<line x1="428.0" y1="373.8" x2="428.0" y2="376.3" stroke="#222" stroke-width="0.9"/>
<line x1="439.8" y1="373.8" x2="439.8" y2="376.3" stroke="#222" stroke-width="0.9"/>
<line x1="451.8" y1="373.8" x2="451.8" y2="376.3" stroke="#222" stroke-width="0.9"/>
<line x1="463.5" y1="373.8" x2="463.5" y2="376.3" stroke="#222" stroke-width="0.9"/>
<line x1="312.5" y1="285.2" x2="362" y2="285.2" stroke="#c9c3c8" stroke-width="0.9"/>
<line x1="367.2" y1="285.2" x2="416.9" y2="285.2" stroke="#c9c3c8" stroke-width="0.9"/>
<line x1="421.2" y1="285.2" x2="471.2" y2="285.2" stroke="#c9c3c8" stroke-width="0.9"/>
<line x1="312.5" y1="290.3" x2="362" y2="290.3" stroke="#c9c3c8" stroke-width="0.9"/>
<line x1="367.2" y1="290.3" x2="416.9" y2="290.3" stroke="#c9c3c8" stroke-width="0.9"/>
<line x1="421.2" y1="290.3" x2="471.2" y2="290.3" stroke="#c9c3c8" stroke-width="0.9"/>
<line x1="312.5" y1="295.8" x2="362" y2="295.8" stroke="#c9c3c8" stroke-width="0.9"/>
<line x1="367.2" y1="295.8" x2="416.9" y2="295.8" stroke="#c9c3c8" stroke-width="0.9"/>
<line x1="421.2" y1="295.8" x2="471.2" y2="295.8" stroke="#c9c3c8" stroke-width="0.9"/>
<line x1="312.5" y1="306.7" x2="362" y2="306.7" stroke="#c9c3c8" stroke-width="0.9"/>
<line x1="367.2" y1="306.7" x2="416.9" y2="306.7" stroke="#c9c3c8" stroke-width="0.9"/>
<line x1="421.2" y1="306.7" x2="471.2" y2="306.7" stroke="#c9c3c8" stroke-width="0.9"/>
<line x1="312.5" y1="326.6" x2="362" y2="326.6" stroke="#c9c3c8" stroke-width="0.9"/>
<line x1="367.2" y1="326.6" x2="416.9" y2="326.6" stroke="#c9c3c8" stroke-width="0.9"/>
<line x1="421.2" y1="326.6" x2="471.2" y2="326.6" stroke="#c9c3c8" stroke-width="0.9"/>
<line x1="312.5" y1="334.3" x2="362" y2="334.3" stroke="#c9c3c8" stroke-width="0.9"/>
<line x1="367.2" y1="334.3" x2="416.9" y2="334.3" stroke="#c9c3c8" stroke-width="0.9"/>
<line x1="421.2" y1="334.3" x2="471.2" y2="334.3" stroke="#c9c3c8" stroke-width="0.9"/>
<line x1="312.5" y1="352.1" x2="362" y2="352.1" stroke="#c9c3c8" stroke-width="0.9"/>
<line x1="367.2" y1="352.1" x2="416.9" y2="352.1" stroke="#c9c3c8" stroke-width="0.9"/>
<line x1="421.2" y1="352.1" x2="471.2" y2="352.1" stroke="#c9c3c8" stroke-width="0.9"/>
<line x1="312.5" y1="362.6" x2="362" y2="362.6" stroke="#c9c3c8" stroke-width="0.9"/>
<line x1="367.2" y1="362.6" x2="416.9" y2="362.6" stroke="#c9c3c8" stroke-width="0.9"/>
<line x1="421.2" y1="362.6" x2="471.2" y2="362.6" stroke="#c9c3c8" stroke-width="0.9"/>
<circle cx="319.30" cy="284.70" r="2.35" fill="#8cb8dc" stroke="#2f5578" stroke-width="1.0"/>
<circle cx="331.10" cy="282.60" r="2.35" fill="#8cb8dc" stroke="#2f5578" stroke-width="1.0"/>
<circle cx="342.90" cy="285.00" r="2.35" fill="#8cb8dc" stroke="#2f5578" stroke-width="1.0"/>
<circle cx="354.80" cy="284.50" r="2.35" fill="#8cb8dc" stroke="#2f5578" stroke-width="1.0"/>
<circle cx="373.70" cy="285.30" r="2.35" fill="#8cb8dc" stroke="#2f5578" stroke-width="1.0"/>
<circle cx="385.50" cy="283.60" r="2.35" fill="#8cb8dc" stroke="#2f5578" stroke-width="1.0"/>
<circle cx="397.20" cy="284.70" r="2.35" fill="#8cb8dc" stroke="#2f5578" stroke-width="1.0"/>
<circle cx="408.90" cy="283.60" r="2.35" fill="#8cb8dc" stroke="#2f5578" stroke-width="1.0"/>
<circle cx="428.00" cy="283.60" r="2.35" fill="#8cb8dc" stroke="#2f5578" stroke-width="1.0"/>
<circle cx="439.80" cy="285.00" r="2.35" fill="#8cb8dc" stroke="#2f5578" stroke-width="1.0"/>
<circle cx="451.80" cy="285.70" r="2.35" fill="#8cb8dc" stroke="#2f5578" stroke-width="1.0"/>
<circle cx="463.50" cy="285.50" r="2.35" fill="#8cb8dc" stroke="#2f5578" stroke-width="1.0"/>
<circle cx="319.30" cy="289.50" r="2.35" fill="#5a6886" stroke="#232d45" stroke-width="1.0"/>
<circle cx="331.10" cy="288.90" r="2.35" fill="#5a6886" stroke="#232d45" stroke-width="1.0"/>
<circle cx="342.90" cy="289.80" r="2.35" fill="#5a6886" stroke="#232d45" stroke-width="1.0"/>
<circle cx="354.80" cy="288.90" r="2.35" fill="#5a6886" stroke="#232d45" stroke-width="1.0"/>
<circle cx="373.70" cy="291.70" r="2.35" fill="#5a6886" stroke="#232d45" stroke-width="1.0"/>
<circle cx="385.50" cy="290.00" r="2.35" fill="#5a6886" stroke="#232d45" stroke-width="1.0"/>
<circle cx="397.20" cy="291.70" r="2.35" fill="#5a6886" stroke="#232d45" stroke-width="1.0"/>
<circle cx="408.90" cy="291.00" r="2.35" fill="#5a6886" stroke="#232d45" stroke-width="1.0"/>
<circle cx="428.00" cy="290.80" r="2.35" fill="#5a6886" stroke="#232d45" stroke-width="1.0"/>
<circle cx="439.80" cy="291.30" r="2.35" fill="#5a6886" stroke="#232d45" stroke-width="1.0"/>
<circle cx="451.80" cy="291.70" r="2.35" fill="#5a6886" stroke="#232d45" stroke-width="1.0"/>
<circle cx="463.50" cy="288.50" r="2.35" fill="#5a6886" stroke="#232d45" stroke-width="1.0"/>
<circle cx="319.30" cy="294.80" r="2.35" fill="#d3dfea" stroke="#47566a" stroke-width="1.0"/>
<circle cx="331.10" cy="295.00" r="2.35" fill="#d3dfea" stroke="#47566a" stroke-width="1.0"/>
<circle cx="342.90" cy="295.90" r="2.35" fill="#d3dfea" stroke="#47566a" stroke-width="1.0"/>
<circle cx="354.80" cy="296.30" r="2.35" fill="#d3dfea" stroke="#47566a" stroke-width="1.0"/>
<circle cx="373.70" cy="295.30" r="2.35" fill="#d3dfea" stroke="#47566a" stroke-width="1.0"/>
<circle cx="385.50" cy="296.60" r="2.35" fill="#d3dfea" stroke="#47566a" stroke-width="1.0"/>
<circle cx="397.20" cy="296.30" r="2.35" fill="#d3dfea" stroke="#47566a" stroke-width="1.0"/>
<circle cx="408.90" cy="297.20" r="2.35" fill="#d3dfea" stroke="#47566a" stroke-width="1.0"/>
<circle cx="428.00" cy="296.10" r="2.35" fill="#d3dfea" stroke="#47566a" stroke-width="1.0"/>
<circle cx="439.80" cy="297.00" r="2.35" fill="#d3dfea" stroke="#47566a" stroke-width="1.0"/>
<circle cx="451.80" cy="296.40" r="2.35" fill="#d3dfea" stroke="#47566a" stroke-width="1.0"/>
<circle cx="463.50" cy="295.00" r="2.35" fill="#d3dfea" stroke="#47566a" stroke-width="1.0"/>
<circle cx="319.30" cy="304.40" r="2.35" fill="#a8c8e2" stroke="#385a7c" stroke-width="1.0"/>
<circle cx="331.10" cy="304.00" r="2.35" fill="#a8c8e2" stroke="#385a7c" stroke-width="1.0"/>
<circle cx="342.90" cy="305.60" r="2.35" fill="#a8c8e2" stroke="#385a7c" stroke-width="1.0"/>
<circle cx="354.80" cy="306.20" r="2.35" fill="#a8c8e2" stroke="#385a7c" stroke-width="1.0"/>
<circle cx="373.70" cy="304.40" r="2.35" fill="#a8c8e2" stroke="#385a7c" stroke-width="1.0"/>
<circle cx="385.50" cy="307.20" r="2.35" fill="#a8c8e2" stroke="#385a7c" stroke-width="1.0"/>
<circle cx="397.20" cy="305.40" r="2.35" fill="#a8c8e2" stroke="#385a7c" stroke-width="1.0"/>
<circle cx="408.90" cy="310.00" r="2.35" fill="#a8c8e2" stroke="#385a7c" stroke-width="1.0"/>
<circle cx="428.00" cy="310.00" r="2.35" fill="#a8c8e2" stroke="#385a7c" stroke-width="1.0"/>
<circle cx="439.80" cy="305.40" r="2.35" fill="#a8c8e2" stroke="#385a7c" stroke-width="1.0"/>
<circle cx="451.80" cy="305.80" r="2.35" fill="#a8c8e2" stroke="#385a7c" stroke-width="1.0"/>
<circle cx="463.50" cy="305.10" r="2.35" fill="#a8c8e2" stroke="#385a7c" stroke-width="1.0"/>
<circle cx="319.30" cy="323.50" r="2.35" fill="#213655" stroke="#0e1a2c" stroke-width="1.0"/>
<circle cx="331.10" cy="324.20" r="2.35" fill="#213655" stroke="#0e1a2c" stroke-width="1.0"/>
<circle cx="342.90" cy="322.90" r="2.35" fill="#213655" stroke="#0e1a2c" stroke-width="1.0"/>
<circle cx="354.80" cy="326.30" r="2.35" fill="#213655" stroke="#0e1a2c" stroke-width="1.0"/>
<circle cx="373.70" cy="328.60" r="2.35" fill="#213655" stroke="#0e1a2c" stroke-width="1.0"/>
<circle cx="385.50" cy="329.00" r="2.35" fill="#213655" stroke="#0e1a2c" stroke-width="1.0"/>
<circle cx="397.20" cy="326.60" r="2.35" fill="#213655" stroke="#0e1a2c" stroke-width="1.0"/>
<circle cx="408.90" cy="329.00" r="2.35" fill="#213655" stroke="#0e1a2c" stroke-width="1.0"/>
<circle cx="428.00" cy="328.60" r="2.35" fill="#213655" stroke="#0e1a2c" stroke-width="1.0"/>
<circle cx="439.80" cy="328.60" r="2.35" fill="#213655" stroke="#0e1a2c" stroke-width="1.0"/>
<circle cx="451.80" cy="327.60" r="2.35" fill="#213655" stroke="#0e1a2c" stroke-width="1.0"/>
<circle cx="463.50" cy="326.60" r="2.35" fill="#213655" stroke="#0e1a2c" stroke-width="1.0"/>
<circle cx="319.30" cy="332.80" r="2.35" fill="#ffffff" stroke="#474747" stroke-width="1.0"/>
<circle cx="331.10" cy="332.30" r="2.35" fill="#ffffff" stroke="#474747" stroke-width="1.0"/>
<circle cx="342.90" cy="331.90" r="2.35" fill="#ffffff" stroke="#474747" stroke-width="1.0"/>
<circle cx="354.80" cy="333.90" r="2.35" fill="#ffffff" stroke="#474747" stroke-width="1.0"/>
<circle cx="373.70" cy="333.60" r="2.35" fill="#ffffff" stroke="#474747" stroke-width="1.0"/>
<circle cx="385.50" cy="332.90" r="2.35" fill="#ffffff" stroke="#474747" stroke-width="1.0"/>
<circle cx="397.20" cy="335.80" r="2.35" fill="#ffffff" stroke="#474747" stroke-width="1.0"/>
<circle cx="408.90" cy="337.60" r="2.35" fill="#ffffff" stroke="#474747" stroke-width="1.0"/>
<circle cx="428.00" cy="335.80" r="2.35" fill="#ffffff" stroke="#474747" stroke-width="1.0"/>
<circle cx="439.80" cy="334.80" r="2.35" fill="#ffffff" stroke="#474747" stroke-width="1.0"/>
<circle cx="451.80" cy="335.60" r="2.35" fill="#ffffff" stroke="#474747" stroke-width="1.0"/>
<circle cx="463.50" cy="335.80" r="2.35" fill="#ffffff" stroke="#474747" stroke-width="1.0"/>
<circle cx="319.30" cy="354.10" r="2.35" fill="#ffffff" stroke="#474747" stroke-width="1.0"/>
<circle cx="331.10" cy="350.10" r="2.35" fill="#ffffff" stroke="#474747" stroke-width="1.0"/>
<circle cx="342.90" cy="353.70" r="2.35" fill="#ffffff" stroke="#474747" stroke-width="1.0"/>
<circle cx="354.80" cy="352.00" r="2.35" fill="#ffffff" stroke="#474747" stroke-width="1.0"/>
<circle cx="373.70" cy="349.30" r="2.35" fill="#ffffff" stroke="#474747" stroke-width="1.0"/>
<circle cx="385.50" cy="355.20" r="2.35" fill="#ffffff" stroke="#474747" stroke-width="1.0"/>
<circle cx="397.20" cy="349.30" r="2.35" fill="#ffffff" stroke="#474747" stroke-width="1.0"/>
<circle cx="408.90" cy="354.40" r="2.35" fill="#ffffff" stroke="#474747" stroke-width="1.0"/>
<circle cx="428.00" cy="354.10" r="2.35" fill="#ffffff" stroke="#474747" stroke-width="1.0"/>
<circle cx="439.80" cy="351.70" r="2.35" fill="#ffffff" stroke="#474747" stroke-width="1.0"/>
<circle cx="451.80" cy="351.40" r="2.35" fill="#ffffff" stroke="#474747" stroke-width="1.0"/>
<circle cx="463.50" cy="348.80" r="2.35" fill="#ffffff" stroke="#474747" stroke-width="1.0"/>
<circle cx="319.30" cy="362.60" r="2.35" fill="#4f93bb" stroke="#24506c" stroke-width="1.0"/>
<circle cx="331.10" cy="361.60" r="2.35" fill="#4f93bb" stroke="#24506c" stroke-width="1.0"/>
<circle cx="342.90" cy="362.60" r="2.35" fill="#4f93bb" stroke="#24506c" stroke-width="1.0"/>
<circle cx="354.80" cy="363.40" r="2.35" fill="#4f93bb" stroke="#24506c" stroke-width="1.0"/>
<circle cx="373.70" cy="362.30" r="2.35" fill="#4f93bb" stroke="#24506c" stroke-width="1.0"/>
<circle cx="385.50" cy="359.70" r="2.35" fill="#4f93bb" stroke="#24506c" stroke-width="1.0"/>
<circle cx="397.20" cy="363.00" r="2.35" fill="#4f93bb" stroke="#24506c" stroke-width="1.0"/>
<circle cx="408.90" cy="365.60" r="2.35" fill="#4f93bb" stroke="#24506c" stroke-width="1.0"/>
<circle cx="428.00" cy="361.00" r="2.35" fill="#4f93bb" stroke="#24506c" stroke-width="1.0"/>
<circle cx="439.80" cy="362.30" r="2.35" fill="#4f93bb" stroke="#24506c" stroke-width="1.0"/>
<circle cx="451.80" cy="361.60" r="2.35" fill="#4f93bb" stroke="#24506c" stroke-width="1.0"/>
<circle cx="463.50" cy="363.90" r="2.35" fill="#4f93bb" stroke="#24506c" stroke-width="1.0"/>
<text x="475.88" y="282.9" font-size="8.0" textLength="19.18" lengthAdjust="spacingAndGlyphs" fill="#222" stroke="#222" stroke-width="0.32" stroke-opacity="0.75" text-anchor="start">PFN1</text>
<text x="474.63" y="291.1" font-size="8.0" textLength="21.7" lengthAdjust="spacingAndGlyphs" fill="#222" stroke="#222" stroke-width="0.32" stroke-opacity="0.75" text-anchor="start">PPBP</text>
<text x="472.45" y="300.6" font-size="8.0" textLength="28.77" lengthAdjust="spacingAndGlyphs" fill="#222" stroke="#222" stroke-width="0.32" stroke-opacity="0.75" text-anchor="start">ITGA2B</text>
<text x="472.95" y="312.6" font-size="8.0" textLength="23.31" lengthAdjust="spacingAndGlyphs" fill="#222" stroke="#222" stroke-width="0.32" stroke-opacity="0.75" text-anchor="start">ITGB3</text>
<text x="475.05" y="325.3" font-size="8.0" textLength="19.96" lengthAdjust="spacingAndGlyphs" fill="#222" stroke="#222" stroke-width="0.32" stroke-opacity="0.75" text-anchor="start">SELP</text>
<text x="476.49" y="338.5" font-size="8.0" textLength="16.47" lengthAdjust="spacingAndGlyphs" fill="#222" stroke="#222" stroke-width="0.32" stroke-opacity="0.75" text-anchor="start">GP6</text>
<text x="474.29" y="352.9" font-size="8.0" textLength="21.1" lengthAdjust="spacingAndGlyphs" fill="#222" stroke="#222" stroke-width="0.32" stroke-opacity="0.75" text-anchor="start">CD59</text>
<text x="473.34" y="368.7" font-size="8.0" textLength="30.77" lengthAdjust="spacingAndGlyphs" fill="#222" stroke="#222" stroke-width="0.32" stroke-opacity="0.75" text-anchor="start">PLXNB2</text>
</g>
<rect x="0" y="0" width="520" height="1" fill="#5e5e5e"/><rect x="0" y="407" width="520" height="1" fill="#484848"/><rect x="0" y="0" width="1" height="408" fill="#505050"/><rect x="519" y="0" width="1" height="408" fill="#383838"/>
</svg>
</body></html>
